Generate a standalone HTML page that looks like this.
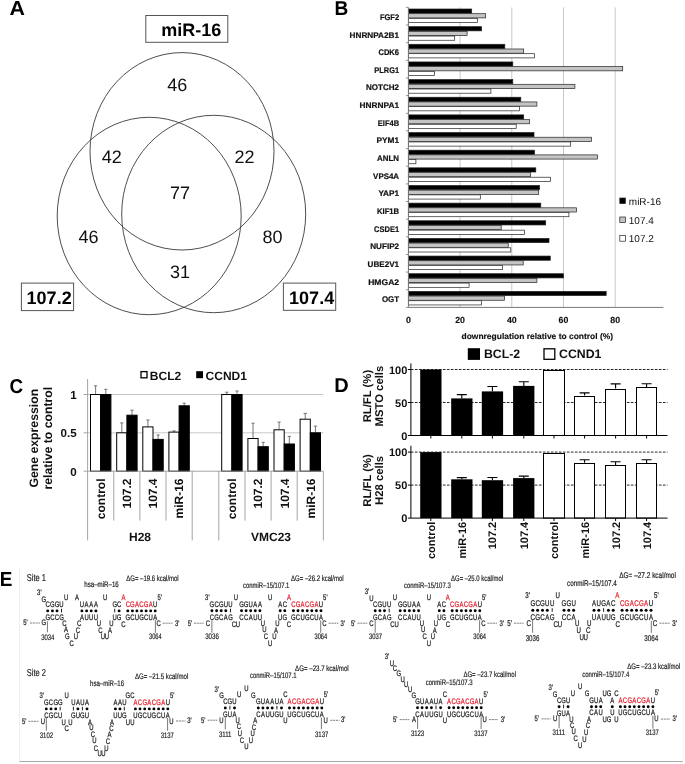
<!DOCTYPE html>
<html lang="en"><head><meta charset="utf-8"><title>Figure</title>
<style>
html,body{margin:0;padding:0;background:#fff;}
body{width:685px;height:764px;overflow:hidden;font-family:"Liberation Sans",Arial,sans-serif;}
svg{display:block;}
</style></head><body>
<svg width="685" height="764" viewBox="0 0 685 764" text-rendering="geometricPrecision">
<rect width="685" height="764" fill="#fff"/>
<g id="panelA" font-family="'Liberation Sans', Arial, sans-serif">
<text transform="translate(9.4 14.9) scale(1.06 1)" font-size="20.2" font-weight="bold" font-family="'Liberation Sans', Arial, sans-serif" fill="#000">A</text>
<ellipse cx="182" cy="151.3" rx="92" ry="98.7" fill="none" stroke="#3a3a3a" stroke-width="0.9"/>
<ellipse cx="149.2" cy="216.0" rx="92" ry="98.7" fill="none" stroke="#3a3a3a" stroke-width="0.9"/>
<ellipse cx="213.7" cy="214.0" rx="92" ry="98.7" fill="none" stroke="#3a3a3a" stroke-width="0.9"/>
<rect x="145.8" y="15.5" width="82" height="26.8" fill="#fff" stroke="#555" stroke-width="1"/>
<rect x="21.4" y="283.1" width="52.2" height="27.5" fill="#fff" stroke="#555" stroke-width="1"/>
<rect x="283.4" y="283.1" width="52.3" height="27.2" fill="#fff" stroke="#555" stroke-width="1"/>
<text x="161.2" y="35.9" font-size="18" font-weight="bold">miR-16</text>
<text x="26.6" y="304.4" font-size="18" font-weight="bold">107.2</text>
<text x="289.1" y="303.9" font-size="18" font-weight="bold">107.4</text>
<text x="177.3" y="91.2" font-size="18" text-anchor="middle" fill="#111">46</text>
<text x="111.8" y="162.6" font-size="18" text-anchor="middle" fill="#111">42</text>
<text x="244.4" y="162.6" font-size="18" text-anchor="middle" fill="#111">22</text>
<text x="180.0" y="198.8" font-size="18" text-anchor="middle" fill="#111">77</text>
<text x="88.6" y="243.3" font-size="18" text-anchor="middle" fill="#111">46</text>
<text x="272.5" y="243.3" font-size="18" text-anchor="middle" fill="#111">80</text>
<text x="180.0" y="277.8" font-size="18" text-anchor="middle" fill="#111">31</text>
</g>
<g id="panelB" font-family="'Liberation Sans', Arial, sans-serif">
<text transform="translate(334.4 14.9) scale(0.955 1)" font-size="20.0" font-weight="bold" font-family="'Liberation Sans', Arial, sans-serif" fill="#000">B</text>
<line x1="460.1" y1="7.4" x2="460.1" y2="307.4" stroke="#c8c8c8" stroke-width="1"/>
<line x1="511.8" y1="7.4" x2="511.8" y2="307.4" stroke="#c8c8c8" stroke-width="1"/>
<line x1="563.5" y1="7.4" x2="563.5" y2="307.4" stroke="#c8c8c8" stroke-width="1"/>
<line x1="615.2" y1="7.4" x2="615.2" y2="307.4" stroke="#c8c8c8" stroke-width="1"/>
<rect x="408.4" y="9.00" width="63.3" height="4.20" fill="#000" stroke="#222" stroke-width="0.7"/>
<rect x="408.4" y="13.70" width="77.3" height="4.20" fill="#c4c4c4" stroke="#222" stroke-width="0.7"/>
<rect x="408.4" y="18.40" width="69.0" height="4.20" fill="#fff" stroke="#222" stroke-width="0.7"/>
<text x="379.90" y="19.8" font-size="8.1" font-weight="bold" fill="#111" stroke="#111" stroke-width="0.2" textLength="19.20" lengthAdjust="spacingAndGlyphs">FGF2</text>
<rect x="408.4" y="26.65" width="73.2" height="4.20" fill="#000" stroke="#222" stroke-width="0.7"/>
<rect x="408.4" y="31.35" width="58.7" height="4.20" fill="#c4c4c4" stroke="#222" stroke-width="0.7"/>
<rect x="408.4" y="36.05" width="46.3" height="4.20" fill="#fff" stroke="#222" stroke-width="0.7"/>
<text x="349.55" y="37.5" font-size="8.1" font-weight="bold" fill="#111" stroke="#111" stroke-width="0.2" textLength="49.55" lengthAdjust="spacingAndGlyphs">HNRNPA2B1</text>
<rect x="408.4" y="44.29" width="96.4" height="4.20" fill="#000" stroke="#222" stroke-width="0.7"/>
<rect x="408.4" y="48.99" width="115.3" height="4.20" fill="#c4c4c4" stroke="#222" stroke-width="0.7"/>
<rect x="408.4" y="53.69" width="126.1" height="4.20" fill="#fff" stroke="#222" stroke-width="0.7"/>
<text x="378.40" y="55.1" font-size="8.1" font-weight="bold" fill="#111" stroke="#111" stroke-width="0.2" textLength="20.70" lengthAdjust="spacingAndGlyphs">CDK6</text>
<rect x="408.4" y="61.94" width="104.4" height="4.20" fill="#000" stroke="#222" stroke-width="0.7"/>
<rect x="408.4" y="66.64" width="214.3" height="4.20" fill="#c4c4c4" stroke="#222" stroke-width="0.7"/>
<rect x="408.4" y="71.34" width="26.1" height="4.20" fill="#fff" stroke="#222" stroke-width="0.7"/>
<text x="374.30" y="72.8" font-size="8.1" font-weight="bold" fill="#111" stroke="#111" stroke-width="0.2" textLength="24.80" lengthAdjust="spacingAndGlyphs">PLRG1</text>
<rect x="408.4" y="79.59" width="104.4" height="4.20" fill="#000" stroke="#222" stroke-width="0.7"/>
<rect x="408.4" y="84.29" width="166.5" height="4.20" fill="#c4c4c4" stroke="#222" stroke-width="0.7"/>
<rect x="408.4" y="88.99" width="82.5" height="4.20" fill="#fff" stroke="#222" stroke-width="0.7"/>
<text x="366.00" y="90.4" font-size="8.1" font-weight="bold" fill="#111" stroke="#111" stroke-width="0.2" textLength="33.10" lengthAdjust="spacingAndGlyphs">NOTCH2</text>
<rect x="408.4" y="97.24" width="112.4" height="4.20" fill="#000" stroke="#222" stroke-width="0.7"/>
<rect x="408.4" y="101.94" width="128.5" height="4.20" fill="#c4c4c4" stroke="#222" stroke-width="0.7"/>
<rect x="408.4" y="106.64" width="111.2" height="4.20" fill="#fff" stroke="#222" stroke-width="0.7"/>
<text x="359.50" y="108.1" font-size="8.1" font-weight="bold" fill="#111" stroke="#111" stroke-width="0.2" textLength="39.60" lengthAdjust="spacingAndGlyphs">HNRNPA1</text>
<rect x="408.4" y="114.88" width="115.3" height="4.20" fill="#000" stroke="#222" stroke-width="0.7"/>
<rect x="408.4" y="119.58" width="121.0" height="4.20" fill="#c4c4c4" stroke="#222" stroke-width="0.7"/>
<rect x="408.4" y="124.28" width="107.8" height="4.20" fill="#fff" stroke="#222" stroke-width="0.7"/>
<text x="377.80" y="125.7" font-size="8.1" font-weight="bold" fill="#111" stroke="#111" stroke-width="0.2" textLength="21.30" lengthAdjust="spacingAndGlyphs">EIF4B</text>
<rect x="408.4" y="132.53" width="125.6" height="4.20" fill="#000" stroke="#222" stroke-width="0.7"/>
<rect x="408.4" y="137.23" width="183.0" height="4.20" fill="#c4c4c4" stroke="#222" stroke-width="0.7"/>
<rect x="408.4" y="141.93" width="162.3" height="4.20" fill="#fff" stroke="#222" stroke-width="0.7"/>
<text x="376.50" y="143.4" font-size="8.1" font-weight="bold" fill="#111" stroke="#111" stroke-width="0.2" textLength="22.60" lengthAdjust="spacingAndGlyphs">PYM1</text>
<rect x="408.4" y="150.18" width="126.1" height="4.20" fill="#000" stroke="#222" stroke-width="0.7"/>
<rect x="408.4" y="154.88" width="189.0" height="4.20" fill="#c4c4c4" stroke="#222" stroke-width="0.7"/>
<rect x="408.4" y="159.58" width="7.5" height="4.20" fill="#fff" stroke="#222" stroke-width="0.7"/>
<text x="377.10" y="161.0" font-size="8.1" font-weight="bold" fill="#111" stroke="#111" stroke-width="0.2" textLength="22.00" lengthAdjust="spacingAndGlyphs">ANLN</text>
<rect x="408.4" y="167.82" width="127.4" height="4.20" fill="#000" stroke="#222" stroke-width="0.7"/>
<rect x="408.4" y="172.52" width="122.0" height="4.20" fill="#c4c4c4" stroke="#222" stroke-width="0.7"/>
<rect x="408.4" y="177.22" width="142.2" height="4.20" fill="#fff" stroke="#222" stroke-width="0.7"/>
<text x="373.10" y="178.6" font-size="8.1" font-weight="bold" fill="#111" stroke="#111" stroke-width="0.2" textLength="26.00" lengthAdjust="spacingAndGlyphs">VPS4A</text>
<rect x="408.4" y="185.47" width="131.1" height="4.20" fill="#000" stroke="#222" stroke-width="0.7"/>
<rect x="408.4" y="190.17" width="130.3" height="4.20" fill="#c4c4c4" stroke="#222" stroke-width="0.7"/>
<rect x="408.4" y="194.87" width="71.9" height="4.20" fill="#fff" stroke="#222" stroke-width="0.7"/>
<text x="378.40" y="196.3" font-size="8.1" font-weight="bold" fill="#111" stroke="#111" stroke-width="0.2" textLength="20.70" lengthAdjust="spacingAndGlyphs">YAP1</text>
<rect x="408.4" y="203.12" width="132.4" height="4.20" fill="#000" stroke="#222" stroke-width="0.7"/>
<rect x="408.4" y="207.82" width="168.0" height="4.20" fill="#c4c4c4" stroke="#222" stroke-width="0.7"/>
<rect x="408.4" y="212.52" width="160.5" height="4.20" fill="#fff" stroke="#222" stroke-width="0.7"/>
<text x="377.00" y="213.9" font-size="8.1" font-weight="bold" fill="#111" stroke="#111" stroke-width="0.2" textLength="22.10" lengthAdjust="spacingAndGlyphs">KIF1B</text>
<rect x="408.4" y="220.76" width="137.3" height="4.20" fill="#000" stroke="#222" stroke-width="0.7"/>
<rect x="408.4" y="225.46" width="92.8" height="4.20" fill="#c4c4c4" stroke="#222" stroke-width="0.7"/>
<rect x="408.4" y="230.16" width="116.1" height="4.20" fill="#fff" stroke="#222" stroke-width="0.7"/>
<text x="374.10" y="231.6" font-size="8.1" font-weight="bold" fill="#111" stroke="#111" stroke-width="0.2" textLength="25.00" lengthAdjust="spacingAndGlyphs">CSDE1</text>
<rect x="408.4" y="238.41" width="140.6" height="4.20" fill="#000" stroke="#222" stroke-width="0.7"/>
<rect x="408.4" y="243.11" width="99.8" height="4.20" fill="#c4c4c4" stroke="#222" stroke-width="0.7"/>
<rect x="408.4" y="247.81" width="102.4" height="4.20" fill="#fff" stroke="#222" stroke-width="0.7"/>
<text x="370.20" y="249.2" font-size="8.1" font-weight="bold" fill="#111" stroke="#111" stroke-width="0.2" textLength="28.90" lengthAdjust="spacingAndGlyphs">NUFIP2</text>
<rect x="408.4" y="256.06" width="141.9" height="4.20" fill="#000" stroke="#222" stroke-width="0.7"/>
<rect x="408.4" y="260.76" width="114.8" height="4.20" fill="#c4c4c4" stroke="#222" stroke-width="0.7"/>
<rect x="408.4" y="265.46" width="94.1" height="4.20" fill="#fff" stroke="#222" stroke-width="0.7"/>
<text x="367.60" y="266.9" font-size="8.1" font-weight="bold" fill="#111" stroke="#111" stroke-width="0.2" textLength="31.50" lengthAdjust="spacingAndGlyphs">UBE2V1</text>
<rect x="408.4" y="273.71" width="155.1" height="4.20" fill="#000" stroke="#222" stroke-width="0.7"/>
<rect x="408.4" y="278.41" width="128.5" height="4.20" fill="#c4c4c4" stroke="#222" stroke-width="0.7"/>
<rect x="408.4" y="283.11" width="60.7" height="4.20" fill="#fff" stroke="#222" stroke-width="0.7"/>
<text x="368.20" y="284.5" font-size="8.1" font-weight="bold" fill="#111" stroke="#111" stroke-width="0.2" textLength="30.90" lengthAdjust="spacingAndGlyphs">HMGA2</text>
<rect x="408.4" y="291.35" width="197.8" height="4.20" fill="#000" stroke="#222" stroke-width="0.7"/>
<rect x="408.4" y="296.05" width="96.2" height="4.20" fill="#c4c4c4" stroke="#222" stroke-width="0.7"/>
<rect x="408.4" y="300.75" width="73.2" height="4.20" fill="#fff" stroke="#222" stroke-width="0.7"/>
<text x="381.90" y="302.2" font-size="8.1" font-weight="bold" fill="#111" stroke="#111" stroke-width="0.2" textLength="17.20" lengthAdjust="spacingAndGlyphs">OGT</text>
<line x1="408.4" y1="7.4" x2="408.4" y2="307.4" stroke="#777" stroke-width="1"/>
<line x1="408.4" y1="307.4" x2="663.4" y2="307.4" stroke="#777" stroke-width="1"/>
<line x1="405.9" y1="7.4" x2="408.4" y2="7.4" stroke="#777" stroke-width="0.8"/>
<line x1="405.9" y1="25.0" x2="408.4" y2="25.0" stroke="#777" stroke-width="0.8"/>
<line x1="405.9" y1="42.7" x2="408.4" y2="42.7" stroke="#777" stroke-width="0.8"/>
<line x1="405.9" y1="60.3" x2="408.4" y2="60.3" stroke="#777" stroke-width="0.8"/>
<line x1="405.9" y1="78.0" x2="408.4" y2="78.0" stroke="#777" stroke-width="0.8"/>
<line x1="405.9" y1="95.6" x2="408.4" y2="95.6" stroke="#777" stroke-width="0.8"/>
<line x1="405.9" y1="113.3" x2="408.4" y2="113.3" stroke="#777" stroke-width="0.8"/>
<line x1="405.9" y1="130.9" x2="408.4" y2="130.9" stroke="#777" stroke-width="0.8"/>
<line x1="405.9" y1="148.6" x2="408.4" y2="148.6" stroke="#777" stroke-width="0.8"/>
<line x1="405.9" y1="166.2" x2="408.4" y2="166.2" stroke="#777" stroke-width="0.8"/>
<line x1="405.9" y1="183.9" x2="408.4" y2="183.9" stroke="#777" stroke-width="0.8"/>
<line x1="405.9" y1="201.5" x2="408.4" y2="201.5" stroke="#777" stroke-width="0.8"/>
<line x1="405.9" y1="219.2" x2="408.4" y2="219.2" stroke="#777" stroke-width="0.8"/>
<line x1="405.9" y1="236.8" x2="408.4" y2="236.8" stroke="#777" stroke-width="0.8"/>
<line x1="405.9" y1="254.5" x2="408.4" y2="254.5" stroke="#777" stroke-width="0.8"/>
<line x1="405.9" y1="272.1" x2="408.4" y2="272.1" stroke="#777" stroke-width="0.8"/>
<line x1="405.9" y1="289.8" x2="408.4" y2="289.8" stroke="#777" stroke-width="0.8"/>
<line x1="405.9" y1="307.4" x2="408.4" y2="307.4" stroke="#777" stroke-width="0.8"/>
<text x="408.4" y="323.4" font-size="8.8" font-weight="bold" text-anchor="middle" fill="#111" stroke="#111" stroke-width="0.15">0</text>
<text x="460.1" y="323.4" font-size="8.8" font-weight="bold" text-anchor="middle" fill="#111" stroke="#111" stroke-width="0.15">20</text>
<text x="511.8" y="323.4" font-size="8.8" font-weight="bold" text-anchor="middle" fill="#111" stroke="#111" stroke-width="0.15">40</text>
<text x="563.5" y="323.4" font-size="8.8" font-weight="bold" text-anchor="middle" fill="#111" stroke="#111" stroke-width="0.15">60</text>
<text x="615.2" y="323.4" font-size="8.8" font-weight="bold" text-anchor="middle" fill="#111" stroke="#111" stroke-width="0.15">80</text>
<text x="537.3" y="338.6" font-size="8.2" font-weight="bold" text-anchor="middle" fill="#111" stroke="#111" stroke-width="0.15" textLength="151.5" lengthAdjust="spacingAndGlyphs">downregulation relative to control (%)</text>
<rect x="619.8" y="198" width="5.6" height="5.6" fill="#000" stroke="#222" stroke-width="0.7"/>
<text x="628.8" y="204.6" font-size="10" fill="#111">miR-16</text>
<rect x="619.8" y="217" width="5.6" height="5.6" fill="#c4c4c4" stroke="#222" stroke-width="0.7"/>
<text x="628.8" y="223.6" font-size="10" fill="#111">107.4</text>
<rect x="619.8" y="235.6" width="5.6" height="5.6" fill="#fff" stroke="#222" stroke-width="0.7"/>
<text x="628.8" y="242.2" font-size="10" fill="#111">107.2</text>
</g>
<g id="panelC" font-family="'Liberation Sans', Arial, sans-serif" font-weight="bold">
<text transform="translate(9.6 392.9) scale(0.94 1)" font-size="20.0" font-weight="bold" font-family="'Liberation Sans', Arial, sans-serif" fill="#000">C</text>
<line x1="87.6" y1="432.8" x2="323.4" y2="432.8" stroke="#c8c8c8" stroke-width="1"/>
<line x1="87.6" y1="394.5" x2="323.4" y2="394.5" stroke="#c8c8c8" stroke-width="1"/>
<path d="M95.6 394.5V385.8M94.0 385.8H97.2" stroke="#666" stroke-width="0.9" fill="none"/>
<rect x="90.5" y="394.5" width="10.2" height="76.7" fill="#fff" stroke="#000" stroke-width="1"/>
<path d="M105.8 394.5V389.3M104.2 389.3H107.4" stroke="#666" stroke-width="0.9" fill="none"/>
<rect x="100.7" y="394.5" width="10.2" height="76.7" fill="#000" stroke="#000" stroke-width="1"/>
<text transform="translate(105.0 478.5) rotate(-90)" font-size="12" text-anchor="end" fill="#111">control</text>
<path d="M121.8 432.8V422.9M120.2 422.9H123.3" stroke="#666" stroke-width="0.9" fill="none"/>
<rect x="116.7" y="432.8" width="10.2" height="38.4" fill="#fff" stroke="#000" stroke-width="1"/>
<path d="M132.0 415.2V410.2M130.4 410.2H133.6" stroke="#666" stroke-width="0.9" fill="none"/>
<rect x="126.9" y="415.2" width="10.2" height="56.0" fill="#000" stroke="#000" stroke-width="1"/>
<text transform="translate(131.1 478.5) rotate(-90)" font-size="12" text-anchor="end" fill="#111">107.2</text>
<path d="M147.9 426.9V420.0M146.3 420.0H149.5" stroke="#666" stroke-width="0.9" fill="none"/>
<rect x="142.8" y="426.9" width="10.2" height="44.3" fill="#fff" stroke="#000" stroke-width="1"/>
<path d="M158.1 439.4V435.0M156.5 435.0H159.7" stroke="#666" stroke-width="0.9" fill="none"/>
<rect x="153.0" y="439.4" width="10.2" height="31.8" fill="#000" stroke="#000" stroke-width="1"/>
<text transform="translate(157.3 478.5) rotate(-90)" font-size="12" text-anchor="end" fill="#111">107.4</text>
<path d="M174.0 432.1V430.9M172.4 430.9H175.6" stroke="#666" stroke-width="0.9" fill="none"/>
<rect x="168.9" y="432.1" width="10.2" height="39.1" fill="#fff" stroke="#000" stroke-width="1"/>
<path d="M184.2 405.8V403.2M182.6 403.2H185.8" stroke="#666" stroke-width="0.9" fill="none"/>
<rect x="179.1" y="405.8" width="10.2" height="65.4" fill="#000" stroke="#000" stroke-width="1"/>
<text transform="translate(183.4 478.5) rotate(-90)" font-size="12" text-anchor="end" fill="#111">miR-16</text>
<line x1="87.6" y1="471.2" x2="87.6" y2="540.4" stroke="#9a9a9a" stroke-width="0.9"/>
<line x1="113.8" y1="471.2" x2="113.8" y2="520.6" stroke="#9a9a9a" stroke-width="0.9"/>
<line x1="139.9" y1="471.2" x2="139.9" y2="520.6" stroke="#9a9a9a" stroke-width="0.9"/>
<line x1="166.0" y1="471.2" x2="166.0" y2="520.6" stroke="#9a9a9a" stroke-width="0.9"/>
<line x1="192.2" y1="471.2" x2="192.2" y2="540.4" stroke="#9a9a9a" stroke-width="0.9"/>
<path d="M226.8 394.5V392.2M225.2 392.2H228.4" stroke="#666" stroke-width="0.9" fill="none"/>
<rect x="221.7" y="394.5" width="10.2" height="76.7" fill="#fff" stroke="#000" stroke-width="1"/>
<path d="M237.0 394.5V391.0M235.4 391.0H238.6" stroke="#666" stroke-width="0.9" fill="none"/>
<rect x="231.9" y="394.5" width="10.2" height="76.7" fill="#000" stroke="#000" stroke-width="1"/>
<text transform="translate(236.2 478.5) rotate(-90)" font-size="12" text-anchor="end" fill="#111">control</text>
<path d="M253.0 438.5V423.2M251.4 423.2H254.6" stroke="#666" stroke-width="0.9" fill="none"/>
<rect x="247.9" y="438.5" width="10.2" height="32.7" fill="#fff" stroke="#000" stroke-width="1"/>
<path d="M263.2 446.7V442.3M261.6 442.3H264.8" stroke="#666" stroke-width="0.9" fill="none"/>
<rect x="258.1" y="446.7" width="10.2" height="24.5" fill="#000" stroke="#000" stroke-width="1"/>
<text transform="translate(262.3 478.5) rotate(-90)" font-size="12" text-anchor="end" fill="#111">107.2</text>
<path d="M279.1 429.8V422.1M277.5 422.1H280.7" stroke="#666" stroke-width="0.9" fill="none"/>
<rect x="274.0" y="429.8" width="10.2" height="41.4" fill="#fff" stroke="#000" stroke-width="1"/>
<path d="M289.3 444.0V436.4M287.7 436.4H290.9" stroke="#666" stroke-width="0.9" fill="none"/>
<rect x="284.2" y="444.0" width="10.2" height="27.2" fill="#000" stroke="#000" stroke-width="1"/>
<text transform="translate(288.5 478.5) rotate(-90)" font-size="12" text-anchor="end" fill="#111">107.4</text>
<path d="M305.2 419.2V413.4M303.6 413.4H306.9" stroke="#666" stroke-width="0.9" fill="none"/>
<rect x="300.1" y="419.2" width="10.2" height="52.0" fill="#fff" stroke="#000" stroke-width="1"/>
<path d="M315.4 432.8V426.1M313.8 426.1H317.1" stroke="#666" stroke-width="0.9" fill="none"/>
<rect x="310.3" y="432.8" width="10.2" height="38.4" fill="#000" stroke="#000" stroke-width="1"/>
<text transform="translate(314.6 478.5) rotate(-90)" font-size="12" text-anchor="end" fill="#111">miR-16</text>
<line x1="218.8" y1="471.2" x2="218.8" y2="540.4" stroke="#9a9a9a" stroke-width="0.9"/>
<line x1="245.0" y1="471.2" x2="245.0" y2="520.6" stroke="#9a9a9a" stroke-width="0.9"/>
<line x1="271.1" y1="471.2" x2="271.1" y2="520.6" stroke="#9a9a9a" stroke-width="0.9"/>
<line x1="297.2" y1="471.2" x2="297.2" y2="520.6" stroke="#9a9a9a" stroke-width="0.9"/>
<line x1="323.4" y1="471.2" x2="323.4" y2="540.4" stroke="#9a9a9a" stroke-width="0.9"/>
<line x1="87.6" y1="379" x2="87.6" y2="471.2" stroke="#9a9a9a" stroke-width="0.9"/>
<line x1="87.6" y1="471.2" x2="323.4" y2="471.2" stroke="#9a9a9a" stroke-width="0.9"/>
<text x="76.6" y="399.1" font-size="11.6" text-anchor="end" fill="#111">1</text>
<line x1="83.6" y1="394.5" x2="87.6" y2="394.5" stroke="#9a9a9a" stroke-width="0.9"/>
<text x="76.6" y="437.4" font-size="11.6" text-anchor="end" fill="#111">0.5</text>
<line x1="83.6" y1="432.8" x2="87.6" y2="432.8" stroke="#9a9a9a" stroke-width="0.9"/>
<text x="76.6" y="475.8" font-size="11.6" text-anchor="end" fill="#111">0</text>
<line x1="83.6" y1="471.2" x2="87.6" y2="471.2" stroke="#9a9a9a" stroke-width="0.9"/>
<text x="140" y="540.9" font-size="12" text-anchor="middle" fill="#111">H28</text>
<text x="271" y="540.9" font-size="12" text-anchor="middle" fill="#111">VMC23</text>
<text transform="translate(37.6 438.2) rotate(-90)" font-size="12.25" text-anchor="middle" fill="#111">Gene expression</text>
<text transform="translate(52.4 438.2) rotate(-90)" font-size="12.25" text-anchor="middle" fill="#111">relative to control</text>
<rect x="141.0" y="371.6" width="6.0" height="6.2" fill="#fff" stroke="#000" stroke-width="1.3"/>
<text x="149.8" y="379.6" font-size="12" fill="#111">BCL2</text>
<rect x="196.2" y="371.2" width="6.8" height="7" fill="#000"/>
<text x="205.6" y="379.6" font-size="12" fill="#111">CCND1</text>
</g>
<g id="panelD" font-family="'Liberation Sans', Arial, sans-serif" font-weight="bold">
<text transform="translate(334.3 392.0) scale(1.0 1)" font-size="20.0" font-weight="bold" font-family="'Liberation Sans', Arial, sans-serif" fill="#000">D</text>
<rect x="467.8" y="348.2" width="12.2" height="11.7" fill="#000"/>
<text x="483.9" y="358.4" font-size="12.3" fill="#111">BCL-2</text>
<rect x="544.0" y="348.8" width="10.8" height="10.5" fill="#fff" stroke="#000" stroke-width="1.3"/>
<text x="559.0" y="358.4" font-size="12.3" fill="#111">CCND1</text>
<line x1="410.9" y1="402.5" x2="667.5" y2="402.5" stroke="#000" stroke-width="0.85" stroke-dasharray="2.6 1.4"/>
<line x1="410.9" y1="369.5" x2="667.5" y2="369.5" stroke="#000" stroke-width="0.85" stroke-dasharray="2.6 1.4"/>
<rect x="420.2" y="369.5" width="21.3" height="66.0" fill="#000"/>
<line x1="430.8" y1="435.5" x2="430.8" y2="438.5" stroke="#000" stroke-width="1"/>
<path d="M461.8 398.4V394.6M456.8 394.6H466.8" stroke="#000" stroke-width="1.1" fill="none"/>
<rect x="451.2" y="398.4" width="21.3" height="37.1" fill="#000"/>
<line x1="461.8" y1="435.5" x2="461.8" y2="438.5" stroke="#000" stroke-width="1"/>
<path d="M492.4 391.4V386.5M487.4 386.5H497.4" stroke="#000" stroke-width="1.1" fill="none"/>
<rect x="481.8" y="391.4" width="21.3" height="44.1" fill="#000"/>
<line x1="492.4" y1="435.5" x2="492.4" y2="438.5" stroke="#000" stroke-width="1"/>
<path d="M523.8 385.9V381.8M518.8 381.8H528.8" stroke="#000" stroke-width="1.1" fill="none"/>
<rect x="513.1" y="385.9" width="21.3" height="49.6" fill="#000"/>
<line x1="523.8" y1="435.5" x2="523.8" y2="438.5" stroke="#000" stroke-width="1"/>
<rect x="543.5" y="370.5" width="21" height="65.0" fill="#fff" stroke="#000" stroke-width="1"/>
<line x1="554.0" y1="435.5" x2="554.0" y2="438.5" stroke="#000" stroke-width="1"/>
<path d="M584.6 395.5V392.9M579.6 392.9H589.6" stroke="#000" stroke-width="1.1" fill="none"/>
<rect x="574.5" y="396.5" width="20" height="39.0" fill="#fff" stroke="#000" stroke-width="1"/>
<line x1="584.6" y1="435.5" x2="584.6" y2="438.5" stroke="#000" stroke-width="1"/>
<path d="M615.6 388.5V383.9M610.6 383.9H620.6" stroke="#000" stroke-width="1.1" fill="none"/>
<rect x="605.5" y="389.5" width="20" height="46.0" fill="#fff" stroke="#000" stroke-width="1"/>
<line x1="615.6" y1="435.5" x2="615.6" y2="438.5" stroke="#000" stroke-width="1"/>
<path d="M646.6 387.3V383.8M641.6 383.8H651.6" stroke="#000" stroke-width="1.1" fill="none"/>
<rect x="636.5" y="387.5" width="20" height="48.0" fill="#fff" stroke="#000" stroke-width="1"/>
<line x1="646.6" y1="435.5" x2="646.6" y2="438.5" stroke="#000" stroke-width="1"/>
<path d="M410.9 363.4V435.5H667.5" stroke="#000" stroke-width="1.0" fill="none"/>
<line x1="407.9" y1="369.5" x2="410.9" y2="369.5" stroke="#000" stroke-width="1"/>
<text x="407.3" y="373.5" font-size="11" text-anchor="end" fill="#111">100</text>
<line x1="407.9" y1="402.5" x2="410.9" y2="402.5" stroke="#000" stroke-width="1"/>
<text x="407.3" y="406.5" font-size="11" text-anchor="end" fill="#111">50</text>
<line x1="407.9" y1="435.5" x2="410.9" y2="435.5" stroke="#000" stroke-width="1"/>
<text x="407.3" y="439.5" font-size="11" text-anchor="end" fill="#111">0</text>
<text transform="translate(370.5 396.1) rotate(-90)" font-size="11.3" text-anchor="middle" fill="#111">RL/FL (%)</text>
<text transform="translate(383.2 396.1) rotate(-90)" font-size="11.3" text-anchor="middle" fill="#111">MSTO cells</text>
<line x1="410.9" y1="485.1" x2="667.5" y2="485.1" stroke="#000" stroke-width="0.85" stroke-dasharray="2.6 1.4"/>
<line x1="410.9" y1="452.1" x2="667.5" y2="452.1" stroke="#000" stroke-width="0.85" stroke-dasharray="2.6 1.4"/>
<rect x="420.2" y="452.1" width="21.3" height="66.0" fill="#000"/>
<line x1="430.8" y1="518.1" x2="430.8" y2="521.1" stroke="#000" stroke-width="1"/>
<path d="M461.8 479.3V477.6M456.8 477.6H466.8" stroke="#000" stroke-width="1.1" fill="none"/>
<rect x="451.2" y="479.3" width="21.3" height="38.8" fill="#000"/>
<line x1="461.8" y1="518.1" x2="461.8" y2="521.1" stroke="#000" stroke-width="1"/>
<path d="M492.4 480.2V477.5M487.4 477.5H497.4" stroke="#000" stroke-width="1.1" fill="none"/>
<rect x="481.8" y="480.2" width="21.3" height="38.0" fill="#000"/>
<line x1="492.4" y1="518.1" x2="492.4" y2="521.1" stroke="#000" stroke-width="1"/>
<path d="M523.8 478.1V476.1M518.8 476.1H528.8" stroke="#000" stroke-width="1.1" fill="none"/>
<rect x="513.1" y="478.1" width="21.3" height="40.0" fill="#000"/>
<line x1="523.8" y1="518.1" x2="523.8" y2="521.1" stroke="#000" stroke-width="1"/>
<rect x="543.5" y="453.5" width="21" height="64.6" fill="#fff" stroke="#000" stroke-width="1"/>
<line x1="554.0" y1="518.1" x2="554.0" y2="521.1" stroke="#000" stroke-width="1"/>
<path d="M584.6 462.7V459.8M579.6 459.8H589.6" stroke="#000" stroke-width="1.1" fill="none"/>
<rect x="574.5" y="463.5" width="20" height="54.6" fill="#fff" stroke="#000" stroke-width="1"/>
<line x1="584.6" y1="518.1" x2="584.6" y2="521.1" stroke="#000" stroke-width="1"/>
<path d="M615.6 465.3V461.8M610.6 461.8H620.6" stroke="#000" stroke-width="1.1" fill="none"/>
<rect x="605.5" y="465.5" width="20" height="52.6" fill="#fff" stroke="#000" stroke-width="1"/>
<line x1="615.6" y1="518.1" x2="615.6" y2="521.1" stroke="#000" stroke-width="1"/>
<path d="M646.6 463.3V459.8M641.6 459.8H651.6" stroke="#000" stroke-width="1.1" fill="none"/>
<rect x="636.5" y="463.5" width="20" height="54.6" fill="#fff" stroke="#000" stroke-width="1"/>
<line x1="646.6" y1="518.1" x2="646.6" y2="521.1" stroke="#000" stroke-width="1"/>
<path d="M410.9 445.7V518.1H667.5" stroke="#000" stroke-width="1.0" fill="none"/>
<line x1="407.9" y1="452.1" x2="410.9" y2="452.1" stroke="#000" stroke-width="1"/>
<text x="407.3" y="456.1" font-size="11" text-anchor="end" fill="#111">100</text>
<line x1="407.9" y1="485.1" x2="410.9" y2="485.1" stroke="#000" stroke-width="1"/>
<text x="407.3" y="489.1" font-size="11" text-anchor="end" fill="#111">50</text>
<line x1="407.9" y1="518.1" x2="410.9" y2="518.1" stroke="#000" stroke-width="1"/>
<text x="407.3" y="522.1" font-size="11" text-anchor="end" fill="#111">0</text>
<text transform="translate(370.5 480.4) rotate(-90)" font-size="11.3" text-anchor="middle" fill="#111">RL/FL (%)</text>
<text transform="translate(383.2 480.4) rotate(-90)" font-size="11.3" text-anchor="middle" fill="#111">H28 cells</text>
<text transform="translate(434.7 521.8) rotate(-90)" font-size="11" text-anchor="end" fill="#111">control</text>
<text transform="translate(465.7 521.8) rotate(-90)" font-size="11" text-anchor="end" fill="#111">miR-16</text>
<text transform="translate(496.3 521.8) rotate(-90)" font-size="11" text-anchor="end" fill="#111">107.2</text>
<text transform="translate(527.6 521.8) rotate(-90)" font-size="11" text-anchor="end" fill="#111">107.4</text>
<text transform="translate(557.9 521.8) rotate(-90)" font-size="11" text-anchor="end" fill="#111">control</text>
<text transform="translate(588.5 521.8) rotate(-90)" font-size="11" text-anchor="end" fill="#111">miR-16</text>
<text transform="translate(619.5 521.8) rotate(-90)" font-size="11" text-anchor="end" fill="#111">107.2</text>
<text transform="translate(650.5 521.8) rotate(-90)" font-size="11" text-anchor="end" fill="#111">107.4</text>
</g>
<g id="panelE" font-family="'Liberation Sans', Arial, sans-serif">
<text transform="translate(-0.2 585.6) scale(0.93 1)" font-size="20.4" font-weight="bold" font-family="'Liberation Sans', Arial, sans-serif" fill="#000">E</text>
<line x1="19.5" y1="567" x2="19.5" y2="761.5" stroke="#efefef" stroke-width="1"/>
<line x1="19.5" y1="761.5" x2="683" y2="761.5" stroke="#a8a8a8" stroke-width="1.2"/>
<line x1="683" y1="567" x2="683" y2="761.5" stroke="#f4f4f4" stroke-width="1"/>
<text x="26.8" y="580.9" font-size="10" fill="#1c1c1c" stroke="#1c1c1c" stroke-width="0.2" textLength="19.0" lengthAdjust="spacingAndGlyphs">Site 1</text>
<text x="26.8" y="675.8" font-size="10" fill="#1c1c1c" stroke="#1c1c1c" stroke-width="0.2" textLength="19.0" lengthAdjust="spacingAndGlyphs">Site 2</text>
<text transform="translate(39.3 595.2) scale(0.74 1)" font-size="8.0" text-anchor="middle" fill="#1c1c1c" stroke="#1c1c1c" stroke-width="0.25">3'</text>
<text transform="translate(43.9 601.5) scale(0.74 1)" font-size="8.0" text-anchor="middle" fill="#1c1c1c" stroke="#1c1c1c" stroke-width="0.25">G</text>
<text transform="translate(66.1 600.4) scale(0.74 1)" font-size="8.0" text-anchor="middle" fill="#1c1c1c" stroke="#1c1c1c" stroke-width="0.25">U</text>
<text transform="translate(76.9 600.4) scale(0.74 1)" font-size="8.0" text-anchor="middle" fill="#1c1c1c" stroke="#1c1c1c" stroke-width="0.25">A</text>
<text transform="translate(105.2 599.6) scale(0.74 1)" font-size="8.0" text-anchor="middle" fill="#1c1c1c" stroke="#1c1c1c" stroke-width="0.25">U</text>
<text transform="translate(159.6 599.9) scale(0.74 1)" font-size="8.0" text-anchor="middle" fill="#1c1c1c" stroke="#1c1c1c" stroke-width="0.25">5'</text>
<text transform="translate(25.5 625.3) scale(0.74 1)" font-size="8.0" text-anchor="middle" fill="#1c1c1c" stroke="#1c1c1c" stroke-width="0.25">5'</text>
<text transform="translate(43.7 625.3) scale(0.74 1)" font-size="8.0" text-anchor="middle" fill="#1c1c1c" stroke="#1c1c1c" stroke-width="0.25">G</text>
<text transform="translate(64.4 626.2) scale(0.74 1)" font-size="8.0" text-anchor="middle" fill="#1c1c1c" stroke="#1c1c1c" stroke-width="0.25">C</text>
<text transform="translate(65.9 632.3) scale(0.74 1)" font-size="8.0" text-anchor="middle" fill="#1c1c1c" stroke="#1c1c1c" stroke-width="0.25">A</text>
<text transform="translate(67.3 639.3) scale(0.74 1)" font-size="8.0" text-anchor="middle" fill="#1c1c1c" stroke="#1c1c1c" stroke-width="0.25">G</text>
<text transform="translate(71.7 645.7) scale(0.74 1)" font-size="8.0" text-anchor="middle" fill="#1c1c1c" stroke="#1c1c1c" stroke-width="0.25">C</text>
<text transform="translate(75.8 638.7) scale(0.74 1)" font-size="8.0" text-anchor="middle" fill="#1c1c1c" stroke="#1c1c1c" stroke-width="0.25">U</text>
<text transform="translate(77.8 632.6) scale(0.74 1)" font-size="8.0" text-anchor="middle" fill="#1c1c1c" stroke="#1c1c1c" stroke-width="0.25">C</text>
<text transform="translate(79.2 626.2) scale(0.74 1)" font-size="8.0" text-anchor="middle" fill="#1c1c1c" stroke="#1c1c1c" stroke-width="0.25">C</text>
<text transform="translate(98.9 626.2) scale(0.74 1)" font-size="8.0" text-anchor="middle" fill="#1c1c1c" stroke="#1c1c1c" stroke-width="0.25">U</text>
<text transform="translate(100.5 633.1) scale(0.74 1)" font-size="8.0" text-anchor="middle" fill="#1c1c1c" stroke="#1c1c1c" stroke-width="0.25">C</text>
<text transform="translate(110.1 632.5) scale(0.74 1)" font-size="8.0" text-anchor="middle" fill="#1c1c1c" stroke="#1c1c1c" stroke-width="0.25">A</text>
<text transform="translate(111.4 626.2) scale(0.74 1)" font-size="8.0" text-anchor="middle" fill="#1c1c1c" stroke="#1c1c1c" stroke-width="0.25">U</text>
<text transform="translate(123.5 626.6) scale(0.74 1)" font-size="8.0" text-anchor="middle" fill="#1c1c1c" stroke="#1c1c1c" stroke-width="0.25">C</text>
<text transform="translate(158.7 625.5) scale(0.74 1)" font-size="8.0" text-anchor="middle" fill="#1c1c1c" stroke="#1c1c1c" stroke-width="0.25">C</text>
<text transform="translate(177.1 625.5) scale(0.74 1)" font-size="8.0" text-anchor="middle" fill="#1c1c1c" stroke="#1c1c1c" stroke-width="0.25">3'</text>
<text transform="translate(102.9 639.1) scale(0.74 1)" font-size="8.0" text-anchor="middle" fill="#1c1c1c" stroke="#1c1c1c" stroke-width="0.25">U</text>
<text transform="translate(107.0 639.1) scale(0.74 1)" font-size="8.0" text-anchor="middle" fill="#1c1c1c" stroke="#1c1c1c" stroke-width="0.25">U</text>
<text transform="translate(123.5 600.3) scale(0.74 1)" font-size="8.0" text-anchor="middle" fill="#e8202c" stroke="#e8202c" stroke-width="0.25">A</text>
<text transform="translate(47.7 607.0) scale(0.74 1)" font-size="8.0" text-anchor="middle" fill="#1c1c1c" stroke="#1c1c1c" stroke-width="0.25">C</text>
<text transform="translate(52.4 607.0) scale(0.74 1)" font-size="8.0" text-anchor="middle" fill="#1c1c1c" stroke="#1c1c1c" stroke-width="0.25">G</text>
<text transform="translate(57.0 607.0) scale(0.74 1)" font-size="8.0" text-anchor="middle" fill="#1c1c1c" stroke="#1c1c1c" stroke-width="0.25">G</text>
<text transform="translate(61.5 607.0) scale(0.74 1)" font-size="8.0" text-anchor="middle" fill="#1c1c1c" stroke="#1c1c1c" stroke-width="0.25">U</text>
<text transform="translate(81.9 607.0) scale(0.74 1)" font-size="8.0" text-anchor="middle" fill="#1c1c1c" stroke="#1c1c1c" stroke-width="0.25">U</text>
<text transform="translate(86.6 607.0) scale(0.74 1)" font-size="8.0" text-anchor="middle" fill="#1c1c1c" stroke="#1c1c1c" stroke-width="0.25">A</text>
<text transform="translate(91.2 607.0) scale(0.74 1)" font-size="8.0" text-anchor="middle" fill="#1c1c1c" stroke="#1c1c1c" stroke-width="0.25">A</text>
<text transform="translate(95.9 607.0) scale(0.74 1)" font-size="8.0" text-anchor="middle" fill="#1c1c1c" stroke="#1c1c1c" stroke-width="0.25">A</text>
<text transform="translate(114.7 607.2) scale(0.74 1)" font-size="8.0" text-anchor="middle" fill="#1c1c1c" stroke="#1c1c1c" stroke-width="0.25">G</text>
<text transform="translate(119.1 607.2) scale(0.74 1)" font-size="8.0" text-anchor="middle" fill="#1c1c1c" stroke="#1c1c1c" stroke-width="0.25">C</text>
<text transform="translate(127.8 607.2) scale(0.74 1)" font-size="8.0" text-anchor="middle" fill="#e8202c" stroke="#e8202c" stroke-width="0.25">C</text>
<text transform="translate(132.4 607.2) scale(0.74 1)" font-size="8.0" text-anchor="middle" fill="#e8202c" stroke="#e8202c" stroke-width="0.25">G</text>
<text transform="translate(136.9 607.2) scale(0.74 1)" font-size="8.0" text-anchor="middle" fill="#e8202c" stroke="#e8202c" stroke-width="0.25">A</text>
<text transform="translate(141.5 607.2) scale(0.74 1)" font-size="8.0" text-anchor="middle" fill="#e8202c" stroke="#e8202c" stroke-width="0.25">C</text>
<text transform="translate(146.1 607.2) scale(0.74 1)" font-size="8.0" text-anchor="middle" fill="#e8202c" stroke="#e8202c" stroke-width="0.25">G</text>
<text transform="translate(150.7 607.2) scale(0.74 1)" font-size="8.0" text-anchor="middle" fill="#e8202c" stroke="#e8202c" stroke-width="0.25">A</text>
<text transform="translate(155.2 607.2) scale(0.74 1)" font-size="8.0" text-anchor="middle" fill="#1c1c1c" stroke="#1c1c1c" stroke-width="0.25">U</text>
<text transform="translate(47.7 619.9) scale(0.74 1)" font-size="8.0" text-anchor="middle" fill="#1c1c1c" stroke="#1c1c1c" stroke-width="0.25">G</text>
<text transform="translate(52.4 619.9) scale(0.74 1)" font-size="8.0" text-anchor="middle" fill="#1c1c1c" stroke="#1c1c1c" stroke-width="0.25">C</text>
<text transform="translate(57.0 619.9) scale(0.74 1)" font-size="8.0" text-anchor="middle" fill="#1c1c1c" stroke="#1c1c1c" stroke-width="0.25">C</text>
<text transform="translate(61.5 619.9) scale(0.74 1)" font-size="8.0" text-anchor="middle" fill="#1c1c1c" stroke="#1c1c1c" stroke-width="0.25">G</text>
<text transform="translate(81.9 619.9) scale(0.74 1)" font-size="8.0" text-anchor="middle" fill="#1c1c1c" stroke="#1c1c1c" stroke-width="0.25">A</text>
<text transform="translate(86.6 619.9) scale(0.74 1)" font-size="8.0" text-anchor="middle" fill="#1c1c1c" stroke="#1c1c1c" stroke-width="0.25">U</text>
<text transform="translate(91.2 619.9) scale(0.74 1)" font-size="8.0" text-anchor="middle" fill="#1c1c1c" stroke="#1c1c1c" stroke-width="0.25">U</text>
<text transform="translate(95.9 619.9) scale(0.74 1)" font-size="8.0" text-anchor="middle" fill="#1c1c1c" stroke="#1c1c1c" stroke-width="0.25">U</text>
<text transform="translate(114.7 620.0) scale(0.74 1)" font-size="8.0" text-anchor="middle" fill="#1c1c1c" stroke="#1c1c1c" stroke-width="0.25">U</text>
<text transform="translate(119.1 620.0) scale(0.74 1)" font-size="8.0" text-anchor="middle" fill="#1c1c1c" stroke="#1c1c1c" stroke-width="0.25">G</text>
<text transform="translate(127.8 620.0) scale(0.74 1)" font-size="8.0" text-anchor="middle" fill="#1c1c1c" stroke="#1c1c1c" stroke-width="0.25">G</text>
<text transform="translate(132.4 620.0) scale(0.74 1)" font-size="8.0" text-anchor="middle" fill="#1c1c1c" stroke="#1c1c1c" stroke-width="0.25">C</text>
<text transform="translate(136.9 620.0) scale(0.74 1)" font-size="8.0" text-anchor="middle" fill="#1c1c1c" stroke="#1c1c1c" stroke-width="0.25">U</text>
<text transform="translate(141.5 620.0) scale(0.74 1)" font-size="8.0" text-anchor="middle" fill="#1c1c1c" stroke="#1c1c1c" stroke-width="0.25">G</text>
<text transform="translate(146.1 620.0) scale(0.74 1)" font-size="8.0" text-anchor="middle" fill="#1c1c1c" stroke="#1c1c1c" stroke-width="0.25">C</text>
<text transform="translate(150.7 620.0) scale(0.74 1)" font-size="8.0" text-anchor="middle" fill="#1c1c1c" stroke="#1c1c1c" stroke-width="0.25">U</text>
<text transform="translate(155.2 620.0) scale(0.74 1)" font-size="8.0" text-anchor="middle" fill="#1c1c1c" stroke="#1c1c1c" stroke-width="0.25">A</text>
<circle cx="47.7" cy="610.9" r="1.45" fill="#000"/>
<circle cx="52.4" cy="610.9" r="1.45" fill="#000"/>
<circle cx="57.0" cy="610.9" r="1.45" fill="#000"/>
<circle cx="81.9" cy="610.9" r="1.45" fill="#000"/>
<circle cx="86.6" cy="610.9" r="1.45" fill="#000"/>
<circle cx="91.2" cy="610.9" r="1.45" fill="#000"/>
<circle cx="95.9" cy="610.9" r="1.45" fill="#000"/>
<circle cx="119.1" cy="610.9" r="1.45" fill="#000"/>
<circle cx="127.8" cy="610.9" r="1.45" fill="#000"/>
<circle cx="132.4" cy="610.9" r="1.45" fill="#000"/>
<circle cx="136.9" cy="610.9" r="1.45" fill="#000"/>
<circle cx="141.5" cy="610.9" r="1.45" fill="#000"/>
<circle cx="146.1" cy="610.9" r="1.45" fill="#000"/>
<circle cx="150.7" cy="610.9" r="1.45" fill="#000"/>
<circle cx="155.2" cy="610.9" r="1.45" fill="#000"/>
<line x1="61.5" y1="608.8" x2="61.5" y2="612.4" stroke="#111" stroke-width="0.95"/>
<line x1="114.7" y1="608.8" x2="114.7" y2="612.4" stroke="#111" stroke-width="0.95"/>
<line x1="29.9" y1="623.0" x2="39.9" y2="623.0" stroke="#666" stroke-width="0.8" stroke-dasharray="2.2 0.6"/>
<line x1="47.4" y1="621.2" x2="47.4" y2="632.3" stroke="#555" stroke-width="0.8"/>
<line x1="162.7" y1="623.2" x2="172.5" y2="623.2" stroke="#666" stroke-width="0.8" stroke-dasharray="2.2 0.6"/>
<line x1="155.4" y1="619.9" x2="155.4" y2="632.8" stroke="#555" stroke-width="0.8"/>
<text x="41.2" y="639.6" font-size="8.0" fill="#1c1c1c" stroke="#1c1c1c" stroke-width="0.2" textLength="13.2" lengthAdjust="spacingAndGlyphs">3034</text>
<text x="149.0" y="639.4" font-size="8.0" fill="#1c1c1c" stroke="#1c1c1c" stroke-width="0.2" textLength="12.6" lengthAdjust="spacingAndGlyphs">3064</text>
<text x="84.3" y="587.4" font-size="8.0" fill="#1c1c1c" stroke="#1c1c1c" stroke-width="0.2" textLength="34.5" lengthAdjust="spacingAndGlyphs">hsa–miR–16</text>
<text x="126.3" y="580.5" font-size="8.0" fill="#1c1c1c" stroke="#1c1c1c" stroke-width="0.2" textLength="52.4" lengthAdjust="spacingAndGlyphs">ΔG= –19.6 kcal/mol</text>
<text transform="translate(207.3 599.9) scale(0.74 1)" font-size="8.0" text-anchor="middle" fill="#1c1c1c" stroke="#1c1c1c" stroke-width="0.25">3'</text>
<text transform="translate(235.8 599.6) scale(0.74 1)" font-size="8.0" text-anchor="middle" fill="#1c1c1c" stroke="#1c1c1c" stroke-width="0.25">U</text>
<text transform="translate(270.1 599.6) scale(0.74 1)" font-size="8.0" text-anchor="middle" fill="#1c1c1c" stroke="#1c1c1c" stroke-width="0.25">U</text>
<text transform="translate(325.3 599.6) scale(0.74 1)" font-size="8.0" text-anchor="middle" fill="#1c1c1c" stroke="#1c1c1c" stroke-width="0.25">5'</text>
<text transform="translate(189.9 625.5) scale(0.74 1)" font-size="8.0" text-anchor="middle" fill="#1c1c1c" stroke="#1c1c1c" stroke-width="0.25">5'</text>
<text transform="translate(208.0 625.5) scale(0.74 1)" font-size="8.0" text-anchor="middle" fill="#1c1c1c" stroke="#1c1c1c" stroke-width="0.25">C</text>
<text transform="translate(263.0 626.2) scale(0.74 1)" font-size="8.0" text-anchor="middle" fill="#1c1c1c" stroke="#1c1c1c" stroke-width="0.25">U</text>
<text transform="translate(264.5 631.8) scale(0.74 1)" font-size="8.0" text-anchor="middle" fill="#1c1c1c" stroke="#1c1c1c" stroke-width="0.25">U</text>
<text transform="translate(266.0 638.8) scale(0.74 1)" font-size="8.0" text-anchor="middle" fill="#1c1c1c" stroke="#1c1c1c" stroke-width="0.25">C</text>
<text transform="translate(270.1 645.6) scale(0.74 1)" font-size="8.0" text-anchor="middle" fill="#1c1c1c" stroke="#1c1c1c" stroke-width="0.25">U</text>
<text transform="translate(274.3 638.8) scale(0.74 1)" font-size="8.0" text-anchor="middle" fill="#1c1c1c" stroke="#1c1c1c" stroke-width="0.25">U</text>
<text transform="translate(276.0 632.5) scale(0.74 1)" font-size="8.0" text-anchor="middle" fill="#1c1c1c" stroke="#1c1c1c" stroke-width="0.25">A</text>
<text transform="translate(277.3 626.2) scale(0.74 1)" font-size="8.0" text-anchor="middle" fill="#1c1c1c" stroke="#1c1c1c" stroke-width="0.25">U</text>
<text transform="translate(288.9 626.6) scale(0.74 1)" font-size="8.0" text-anchor="middle" fill="#1c1c1c" stroke="#1c1c1c" stroke-width="0.25">C</text>
<text transform="translate(324.4 625.5) scale(0.74 1)" font-size="8.0" text-anchor="middle" fill="#1c1c1c" stroke="#1c1c1c" stroke-width="0.25">C</text>
<text transform="translate(342.8 625.5) scale(0.74 1)" font-size="8.0" text-anchor="middle" fill="#1c1c1c" stroke="#1c1c1c" stroke-width="0.25">3'</text>
<text transform="translate(233.8 626.6) scale(0.74 1)" font-size="8.0" text-anchor="middle" fill="#1c1c1c" stroke="#1c1c1c" stroke-width="0.25">C</text>
<text transform="translate(238.0 626.6) scale(0.74 1)" font-size="8.0" text-anchor="middle" fill="#1c1c1c" stroke="#1c1c1c" stroke-width="0.25">U</text>
<text transform="translate(288.9 600.3) scale(0.74 1)" font-size="8.0" text-anchor="middle" fill="#e8202c" stroke="#e8202c" stroke-width="0.25">A</text>
<text transform="translate(211.9 607.3) scale(0.74 1)" font-size="8.0" text-anchor="middle" fill="#1c1c1c" stroke="#1c1c1c" stroke-width="0.25">G</text>
<text transform="translate(216.6 607.3) scale(0.74 1)" font-size="8.0" text-anchor="middle" fill="#1c1c1c" stroke="#1c1c1c" stroke-width="0.25">C</text>
<text transform="translate(221.2 607.3) scale(0.74 1)" font-size="8.0" text-anchor="middle" fill="#1c1c1c" stroke="#1c1c1c" stroke-width="0.25">G</text>
<text transform="translate(225.8 607.3) scale(0.74 1)" font-size="8.0" text-anchor="middle" fill="#1c1c1c" stroke="#1c1c1c" stroke-width="0.25">U</text>
<text transform="translate(230.5 607.3) scale(0.74 1)" font-size="8.0" text-anchor="middle" fill="#1c1c1c" stroke="#1c1c1c" stroke-width="0.25">U</text>
<text transform="translate(241.5 607.3) scale(0.74 1)" font-size="8.0" text-anchor="middle" fill="#1c1c1c" stroke="#1c1c1c" stroke-width="0.25">G</text>
<text transform="translate(246.1 607.3) scale(0.74 1)" font-size="8.0" text-anchor="middle" fill="#1c1c1c" stroke="#1c1c1c" stroke-width="0.25">G</text>
<text transform="translate(250.7 607.3) scale(0.74 1)" font-size="8.0" text-anchor="middle" fill="#1c1c1c" stroke="#1c1c1c" stroke-width="0.25">U</text>
<text transform="translate(255.3 607.3) scale(0.74 1)" font-size="8.0" text-anchor="middle" fill="#1c1c1c" stroke="#1c1c1c" stroke-width="0.25">A</text>
<text transform="translate(259.9 607.3) scale(0.74 1)" font-size="8.0" text-anchor="middle" fill="#1c1c1c" stroke="#1c1c1c" stroke-width="0.25">A</text>
<text transform="translate(280.2 607.3) scale(0.74 1)" font-size="8.0" text-anchor="middle" fill="#1c1c1c" stroke="#1c1c1c" stroke-width="0.25">A</text>
<text transform="translate(284.8 607.3) scale(0.74 1)" font-size="8.0" text-anchor="middle" fill="#1c1c1c" stroke="#1c1c1c" stroke-width="0.25">C</text>
<text transform="translate(293.4 607.3) scale(0.74 1)" font-size="8.0" text-anchor="middle" fill="#e8202c" stroke="#e8202c" stroke-width="0.25">C</text>
<text transform="translate(298.0 607.3) scale(0.74 1)" font-size="8.0" text-anchor="middle" fill="#e8202c" stroke="#e8202c" stroke-width="0.25">G</text>
<text transform="translate(302.6 607.3) scale(0.74 1)" font-size="8.0" text-anchor="middle" fill="#e8202c" stroke="#e8202c" stroke-width="0.25">A</text>
<text transform="translate(307.2 607.3) scale(0.74 1)" font-size="8.0" text-anchor="middle" fill="#e8202c" stroke="#e8202c" stroke-width="0.25">C</text>
<text transform="translate(311.8 607.3) scale(0.74 1)" font-size="8.0" text-anchor="middle" fill="#e8202c" stroke="#e8202c" stroke-width="0.25">G</text>
<text transform="translate(316.4 607.3) scale(0.74 1)" font-size="8.0" text-anchor="middle" fill="#e8202c" stroke="#e8202c" stroke-width="0.25">A</text>
<text transform="translate(321.0 607.3) scale(0.74 1)" font-size="8.0" text-anchor="middle" fill="#1c1c1c" stroke="#1c1c1c" stroke-width="0.25">U</text>
<text transform="translate(211.9 620.0) scale(0.74 1)" font-size="8.0" text-anchor="middle" fill="#1c1c1c" stroke="#1c1c1c" stroke-width="0.25">C</text>
<text transform="translate(216.6 620.0) scale(0.74 1)" font-size="8.0" text-anchor="middle" fill="#1c1c1c" stroke="#1c1c1c" stroke-width="0.25">G</text>
<text transform="translate(221.2 620.0) scale(0.74 1)" font-size="8.0" text-anchor="middle" fill="#1c1c1c" stroke="#1c1c1c" stroke-width="0.25">C</text>
<text transform="translate(225.8 620.0) scale(0.74 1)" font-size="8.0" text-anchor="middle" fill="#1c1c1c" stroke="#1c1c1c" stroke-width="0.25">A</text>
<text transform="translate(230.5 620.0) scale(0.74 1)" font-size="8.0" text-anchor="middle" fill="#1c1c1c" stroke="#1c1c1c" stroke-width="0.25">G</text>
<text transform="translate(241.5 620.0) scale(0.74 1)" font-size="8.0" text-anchor="middle" fill="#1c1c1c" stroke="#1c1c1c" stroke-width="0.25">C</text>
<text transform="translate(246.1 620.0) scale(0.74 1)" font-size="8.0" text-anchor="middle" fill="#1c1c1c" stroke="#1c1c1c" stroke-width="0.25">C</text>
<text transform="translate(250.7 620.0) scale(0.74 1)" font-size="8.0" text-anchor="middle" fill="#1c1c1c" stroke="#1c1c1c" stroke-width="0.25">A</text>
<text transform="translate(255.3 620.0) scale(0.74 1)" font-size="8.0" text-anchor="middle" fill="#1c1c1c" stroke="#1c1c1c" stroke-width="0.25">U</text>
<text transform="translate(259.9 620.0) scale(0.74 1)" font-size="8.0" text-anchor="middle" fill="#1c1c1c" stroke="#1c1c1c" stroke-width="0.25">U</text>
<text transform="translate(280.2 620.0) scale(0.74 1)" font-size="8.0" text-anchor="middle" fill="#1c1c1c" stroke="#1c1c1c" stroke-width="0.25">U</text>
<text transform="translate(284.8 620.0) scale(0.74 1)" font-size="8.0" text-anchor="middle" fill="#1c1c1c" stroke="#1c1c1c" stroke-width="0.25">G</text>
<text transform="translate(293.4 620.0) scale(0.74 1)" font-size="8.0" text-anchor="middle" fill="#1c1c1c" stroke="#1c1c1c" stroke-width="0.25">G</text>
<text transform="translate(298.0 620.0) scale(0.74 1)" font-size="8.0" text-anchor="middle" fill="#1c1c1c" stroke="#1c1c1c" stroke-width="0.25">C</text>
<text transform="translate(302.6 620.0) scale(0.74 1)" font-size="8.0" text-anchor="middle" fill="#1c1c1c" stroke="#1c1c1c" stroke-width="0.25">U</text>
<text transform="translate(307.2 620.0) scale(0.74 1)" font-size="8.0" text-anchor="middle" fill="#1c1c1c" stroke="#1c1c1c" stroke-width="0.25">G</text>
<text transform="translate(311.8 620.0) scale(0.74 1)" font-size="8.0" text-anchor="middle" fill="#1c1c1c" stroke="#1c1c1c" stroke-width="0.25">C</text>
<text transform="translate(316.4 620.0) scale(0.74 1)" font-size="8.0" text-anchor="middle" fill="#1c1c1c" stroke="#1c1c1c" stroke-width="0.25">U</text>
<text transform="translate(321.0 620.0) scale(0.74 1)" font-size="8.0" text-anchor="middle" fill="#1c1c1c" stroke="#1c1c1c" stroke-width="0.25">A</text>
<circle cx="211.9" cy="610.8" r="1.45" fill="#000"/>
<circle cx="216.6" cy="610.8" r="1.45" fill="#000"/>
<circle cx="221.2" cy="610.8" r="1.45" fill="#000"/>
<circle cx="225.8" cy="610.8" r="1.45" fill="#000"/>
<circle cx="241.5" cy="610.8" r="1.45" fill="#000"/>
<circle cx="246.1" cy="610.8" r="1.45" fill="#000"/>
<circle cx="250.7" cy="610.8" r="1.45" fill="#000"/>
<circle cx="255.3" cy="610.8" r="1.45" fill="#000"/>
<circle cx="259.9" cy="610.8" r="1.45" fill="#000"/>
<circle cx="280.2" cy="610.8" r="1.45" fill="#000"/>
<circle cx="284.8" cy="610.8" r="1.45" fill="#000"/>
<circle cx="293.4" cy="610.8" r="1.45" fill="#000"/>
<circle cx="298.0" cy="610.8" r="1.45" fill="#000"/>
<circle cx="302.6" cy="610.8" r="1.45" fill="#000"/>
<circle cx="307.2" cy="610.8" r="1.45" fill="#000"/>
<circle cx="311.8" cy="610.8" r="1.45" fill="#000"/>
<circle cx="316.4" cy="610.8" r="1.45" fill="#000"/>
<circle cx="321.0" cy="610.8" r="1.45" fill="#000"/>
<line x1="230.5" y1="608.7" x2="230.5" y2="612.3" stroke="#111" stroke-width="0.95"/>
<line x1="193.8" y1="623.2" x2="203.7" y2="623.2" stroke="#666" stroke-width="0.8" stroke-dasharray="2.2 0.6"/>
<line x1="211.9" y1="620.3" x2="211.9" y2="632.8" stroke="#555" stroke-width="0.8"/>
<line x1="328.6" y1="623.2" x2="338.4" y2="623.2" stroke="#666" stroke-width="0.8" stroke-dasharray="2.2 0.6"/>
<line x1="320.7" y1="620.3" x2="320.7" y2="632.8" stroke="#555" stroke-width="0.8"/>
<text x="205.2" y="639.4" font-size="8.0" fill="#1c1c1c" stroke="#1c1c1c" stroke-width="0.2" textLength="13.6" lengthAdjust="spacingAndGlyphs">3036</text>
<text x="314.5" y="639.4" font-size="8.0" fill="#1c1c1c" stroke="#1c1c1c" stroke-width="0.2" textLength="12.7" lengthAdjust="spacingAndGlyphs">3064</text>
<text x="243.1" y="587.5" font-size="8.0" fill="#1c1c1c" stroke="#1c1c1c" stroke-width="0.2" textLength="46.3" lengthAdjust="spacingAndGlyphs">conmiR–15/107.1</text>
<text x="291.1" y="580.5" font-size="8.0" fill="#1c1c1c" stroke="#1c1c1c" stroke-width="0.2" textLength="52.6" lengthAdjust="spacingAndGlyphs">ΔG= –26.2 kcal/mol</text>
<text transform="translate(366.9 594.4) scale(0.74 1)" font-size="8.0" text-anchor="middle" fill="#1c1c1c" stroke="#1c1c1c" stroke-width="0.25">3'</text>
<text transform="translate(371.5 601.0) scale(0.74 1)" font-size="8.0" text-anchor="middle" fill="#1c1c1c" stroke="#1c1c1c" stroke-width="0.25">U</text>
<text transform="translate(394.9 599.6) scale(0.74 1)" font-size="8.0" text-anchor="middle" fill="#1c1c1c" stroke="#1c1c1c" stroke-width="0.25">U</text>
<text transform="translate(428.8 599.6) scale(0.74 1)" font-size="8.0" text-anchor="middle" fill="#1c1c1c" stroke="#1c1c1c" stroke-width="0.25">U</text>
<text transform="translate(484.2 599.6) scale(0.74 1)" font-size="8.0" text-anchor="middle" fill="#1c1c1c" stroke="#1c1c1c" stroke-width="0.25">5'</text>
<text transform="translate(353.1 625.5) scale(0.74 1)" font-size="8.0" text-anchor="middle" fill="#1c1c1c" stroke="#1c1c1c" stroke-width="0.25">5'</text>
<text transform="translate(371.5 625.5) scale(0.74 1)" font-size="8.0" text-anchor="middle" fill="#1c1c1c" stroke="#1c1c1c" stroke-width="0.25">C</text>
<text transform="translate(421.8 626.2) scale(0.74 1)" font-size="8.0" text-anchor="middle" fill="#1c1c1c" stroke="#1c1c1c" stroke-width="0.25">U</text>
<text transform="translate(423.1 631.8) scale(0.74 1)" font-size="8.0" text-anchor="middle" fill="#1c1c1c" stroke="#1c1c1c" stroke-width="0.25">U</text>
<text transform="translate(424.6 638.8) scale(0.74 1)" font-size="8.0" text-anchor="middle" fill="#1c1c1c" stroke="#1c1c1c" stroke-width="0.25">C</text>
<text transform="translate(428.8 645.6) scale(0.74 1)" font-size="8.0" text-anchor="middle" fill="#1c1c1c" stroke="#1c1c1c" stroke-width="0.25">U</text>
<text transform="translate(433.0 638.8) scale(0.74 1)" font-size="8.0" text-anchor="middle" fill="#1c1c1c" stroke="#1c1c1c" stroke-width="0.25">U</text>
<text transform="translate(434.7 632.5) scale(0.74 1)" font-size="8.0" text-anchor="middle" fill="#1c1c1c" stroke="#1c1c1c" stroke-width="0.25">A</text>
<text transform="translate(436.0 626.2) scale(0.74 1)" font-size="8.0" text-anchor="middle" fill="#1c1c1c" stroke="#1c1c1c" stroke-width="0.25">U</text>
<text transform="translate(447.8 626.6) scale(0.74 1)" font-size="8.0" text-anchor="middle" fill="#1c1c1c" stroke="#1c1c1c" stroke-width="0.25">C</text>
<text transform="translate(483.3 625.5) scale(0.74 1)" font-size="8.0" text-anchor="middle" fill="#1c1c1c" stroke="#1c1c1c" stroke-width="0.25">C</text>
<text transform="translate(501.7 625.5) scale(0.74 1)" font-size="8.0" text-anchor="middle" fill="#1c1c1c" stroke="#1c1c1c" stroke-width="0.25">3'</text>
<text transform="translate(392.4 626.6) scale(0.74 1)" font-size="8.0" text-anchor="middle" fill="#1c1c1c" stroke="#1c1c1c" stroke-width="0.25">C</text>
<text transform="translate(396.6 626.6) scale(0.74 1)" font-size="8.0" text-anchor="middle" fill="#1c1c1c" stroke="#1c1c1c" stroke-width="0.25">U</text>
<text transform="translate(447.8 600.3) scale(0.74 1)" font-size="8.0" text-anchor="middle" fill="#e8202c" stroke="#e8202c" stroke-width="0.25">A</text>
<text transform="translate(375.2 607.3) scale(0.74 1)" font-size="8.0" text-anchor="middle" fill="#1c1c1c" stroke="#1c1c1c" stroke-width="0.25">C</text>
<text transform="translate(379.9 607.3) scale(0.74 1)" font-size="8.0" text-anchor="middle" fill="#1c1c1c" stroke="#1c1c1c" stroke-width="0.25">G</text>
<text transform="translate(384.5 607.3) scale(0.74 1)" font-size="8.0" text-anchor="middle" fill="#1c1c1c" stroke="#1c1c1c" stroke-width="0.25">U</text>
<text transform="translate(389.2 607.3) scale(0.74 1)" font-size="8.0" text-anchor="middle" fill="#1c1c1c" stroke="#1c1c1c" stroke-width="0.25">U</text>
<text transform="translate(400.2 607.3) scale(0.74 1)" font-size="8.0" text-anchor="middle" fill="#1c1c1c" stroke="#1c1c1c" stroke-width="0.25">G</text>
<text transform="translate(404.8 607.3) scale(0.74 1)" font-size="8.0" text-anchor="middle" fill="#1c1c1c" stroke="#1c1c1c" stroke-width="0.25">G</text>
<text transform="translate(409.4 607.3) scale(0.74 1)" font-size="8.0" text-anchor="middle" fill="#1c1c1c" stroke="#1c1c1c" stroke-width="0.25">U</text>
<text transform="translate(414.0 607.3) scale(0.74 1)" font-size="8.0" text-anchor="middle" fill="#1c1c1c" stroke="#1c1c1c" stroke-width="0.25">A</text>
<text transform="translate(418.6 607.3) scale(0.74 1)" font-size="8.0" text-anchor="middle" fill="#1c1c1c" stroke="#1c1c1c" stroke-width="0.25">A</text>
<text transform="translate(439.3 607.3) scale(0.74 1)" font-size="8.0" text-anchor="middle" fill="#1c1c1c" stroke="#1c1c1c" stroke-width="0.25">A</text>
<text transform="translate(443.9 607.3) scale(0.74 1)" font-size="8.0" text-anchor="middle" fill="#1c1c1c" stroke="#1c1c1c" stroke-width="0.25">C</text>
<text transform="translate(452.2 607.3) scale(0.74 1)" font-size="8.0" text-anchor="middle" fill="#e8202c" stroke="#e8202c" stroke-width="0.25">C</text>
<text transform="translate(456.8 607.3) scale(0.74 1)" font-size="8.0" text-anchor="middle" fill="#e8202c" stroke="#e8202c" stroke-width="0.25">G</text>
<text transform="translate(461.4 607.3) scale(0.74 1)" font-size="8.0" text-anchor="middle" fill="#e8202c" stroke="#e8202c" stroke-width="0.25">A</text>
<text transform="translate(466.0 607.3) scale(0.74 1)" font-size="8.0" text-anchor="middle" fill="#e8202c" stroke="#e8202c" stroke-width="0.25">C</text>
<text transform="translate(470.6 607.3) scale(0.74 1)" font-size="8.0" text-anchor="middle" fill="#e8202c" stroke="#e8202c" stroke-width="0.25">G</text>
<text transform="translate(475.2 607.3) scale(0.74 1)" font-size="8.0" text-anchor="middle" fill="#e8202c" stroke="#e8202c" stroke-width="0.25">A</text>
<text transform="translate(479.8 607.3) scale(0.74 1)" font-size="8.0" text-anchor="middle" fill="#1c1c1c" stroke="#1c1c1c" stroke-width="0.25">U</text>
<text transform="translate(375.2 620.0) scale(0.74 1)" font-size="8.0" text-anchor="middle" fill="#1c1c1c" stroke="#1c1c1c" stroke-width="0.25">G</text>
<text transform="translate(379.9 620.0) scale(0.74 1)" font-size="8.0" text-anchor="middle" fill="#1c1c1c" stroke="#1c1c1c" stroke-width="0.25">C</text>
<text transform="translate(384.5 620.0) scale(0.74 1)" font-size="8.0" text-anchor="middle" fill="#1c1c1c" stroke="#1c1c1c" stroke-width="0.25">A</text>
<text transform="translate(389.2 620.0) scale(0.74 1)" font-size="8.0" text-anchor="middle" fill="#1c1c1c" stroke="#1c1c1c" stroke-width="0.25">G</text>
<text transform="translate(400.2 620.0) scale(0.74 1)" font-size="8.0" text-anchor="middle" fill="#1c1c1c" stroke="#1c1c1c" stroke-width="0.25">C</text>
<text transform="translate(404.8 620.0) scale(0.74 1)" font-size="8.0" text-anchor="middle" fill="#1c1c1c" stroke="#1c1c1c" stroke-width="0.25">C</text>
<text transform="translate(409.4 620.0) scale(0.74 1)" font-size="8.0" text-anchor="middle" fill="#1c1c1c" stroke="#1c1c1c" stroke-width="0.25">A</text>
<text transform="translate(414.0 620.0) scale(0.74 1)" font-size="8.0" text-anchor="middle" fill="#1c1c1c" stroke="#1c1c1c" stroke-width="0.25">U</text>
<text transform="translate(418.6 620.0) scale(0.74 1)" font-size="8.0" text-anchor="middle" fill="#1c1c1c" stroke="#1c1c1c" stroke-width="0.25">U</text>
<text transform="translate(439.3 620.0) scale(0.74 1)" font-size="8.0" text-anchor="middle" fill="#1c1c1c" stroke="#1c1c1c" stroke-width="0.25">U</text>
<text transform="translate(443.9 620.0) scale(0.74 1)" font-size="8.0" text-anchor="middle" fill="#1c1c1c" stroke="#1c1c1c" stroke-width="0.25">G</text>
<text transform="translate(452.2 620.0) scale(0.74 1)" font-size="8.0" text-anchor="middle" fill="#1c1c1c" stroke="#1c1c1c" stroke-width="0.25">G</text>
<text transform="translate(456.8 620.0) scale(0.74 1)" font-size="8.0" text-anchor="middle" fill="#1c1c1c" stroke="#1c1c1c" stroke-width="0.25">C</text>
<text transform="translate(461.4 620.0) scale(0.74 1)" font-size="8.0" text-anchor="middle" fill="#1c1c1c" stroke="#1c1c1c" stroke-width="0.25">U</text>
<text transform="translate(466.0 620.0) scale(0.74 1)" font-size="8.0" text-anchor="middle" fill="#1c1c1c" stroke="#1c1c1c" stroke-width="0.25">G</text>
<text transform="translate(470.6 620.0) scale(0.74 1)" font-size="8.0" text-anchor="middle" fill="#1c1c1c" stroke="#1c1c1c" stroke-width="0.25">C</text>
<text transform="translate(475.2 620.0) scale(0.74 1)" font-size="8.0" text-anchor="middle" fill="#1c1c1c" stroke="#1c1c1c" stroke-width="0.25">U</text>
<text transform="translate(479.8 620.0) scale(0.74 1)" font-size="8.0" text-anchor="middle" fill="#1c1c1c" stroke="#1c1c1c" stroke-width="0.25">A</text>
<circle cx="375.2" cy="610.8" r="1.45" fill="#000"/>
<circle cx="379.9" cy="610.8" r="1.45" fill="#000"/>
<circle cx="384.5" cy="610.8" r="1.45" fill="#000"/>
<circle cx="400.2" cy="610.8" r="1.45" fill="#000"/>
<circle cx="404.8" cy="610.8" r="1.45" fill="#000"/>
<circle cx="409.4" cy="610.8" r="1.45" fill="#000"/>
<circle cx="414.0" cy="610.8" r="1.45" fill="#000"/>
<circle cx="418.6" cy="610.8" r="1.45" fill="#000"/>
<circle cx="439.3" cy="610.8" r="1.45" fill="#000"/>
<circle cx="443.9" cy="610.8" r="1.45" fill="#000"/>
<circle cx="452.2" cy="610.8" r="1.45" fill="#000"/>
<circle cx="456.8" cy="610.8" r="1.45" fill="#000"/>
<circle cx="461.4" cy="610.8" r="1.45" fill="#000"/>
<circle cx="466.0" cy="610.8" r="1.45" fill="#000"/>
<circle cx="470.6" cy="610.8" r="1.45" fill="#000"/>
<circle cx="475.2" cy="610.8" r="1.45" fill="#000"/>
<circle cx="479.8" cy="610.8" r="1.45" fill="#000"/>
<line x1="389.2" y1="608.7" x2="389.2" y2="612.3" stroke="#111" stroke-width="0.95"/>
<line x1="357.5" y1="623.2" x2="367.3" y2="623.2" stroke="#666" stroke-width="0.8" stroke-dasharray="2.2 0.6"/>
<line x1="375.2" y1="620.3" x2="375.2" y2="632.8" stroke="#555" stroke-width="0.8"/>
<line x1="487.3" y1="623.2" x2="497.1" y2="623.2" stroke="#666" stroke-width="0.8" stroke-dasharray="2.2 0.6"/>
<line x1="479.6" y1="620.3" x2="479.6" y2="632.8" stroke="#555" stroke-width="0.8"/>
<text x="369.0" y="639.4" font-size="8.0" fill="#1c1c1c" stroke="#1c1c1c" stroke-width="0.2" textLength="13.0" lengthAdjust="spacingAndGlyphs">3037</text>
<text x="473.3" y="639.4" font-size="8.0" fill="#1c1c1c" stroke="#1c1c1c" stroke-width="0.2" textLength="12.7" lengthAdjust="spacingAndGlyphs">3064</text>
<text x="404.0" y="587.5" font-size="8.0" fill="#1c1c1c" stroke="#1c1c1c" stroke-width="0.2" textLength="46.7" lengthAdjust="spacingAndGlyphs">conmiR–15/107.3</text>
<text x="451.1" y="580.5" font-size="8.0" fill="#1c1c1c" stroke="#1c1c1c" stroke-width="0.2" textLength="51.9" lengthAdjust="spacingAndGlyphs">ΔG= –25.0 kcal/mol</text>
<text transform="translate(527.6 598.4) scale(0.74 1)" font-size="8.3" text-anchor="middle" fill="#1c1c1c" stroke="#1c1c1c" stroke-width="0.25">3'</text>
<text transform="translate(557.8 598.2) scale(0.74 1)" font-size="8.3" text-anchor="middle" fill="#1c1c1c" stroke="#1c1c1c" stroke-width="0.25">U</text>
<text transform="translate(656.4 598.3) scale(0.74 1)" font-size="8.3" text-anchor="middle" fill="#1c1c1c" stroke="#1c1c1c" stroke-width="0.25">5'</text>
<text transform="translate(509.5 625.6) scale(0.74 1)" font-size="8.3" text-anchor="middle" fill="#1c1c1c" stroke="#1c1c1c" stroke-width="0.25">5'</text>
<text transform="translate(528.6 625.6) scale(0.74 1)" font-size="8.3" text-anchor="middle" fill="#1c1c1c" stroke="#1c1c1c" stroke-width="0.25">C</text>
<text transform="translate(577.1 626.3) scale(0.74 1)" font-size="8.3" text-anchor="middle" fill="#1c1c1c" stroke="#1c1c1c" stroke-width="0.25">U</text>
<text transform="translate(578.6 633.2) scale(0.74 1)" font-size="8.3" text-anchor="middle" fill="#1c1c1c" stroke="#1c1c1c" stroke-width="0.25">U</text>
<text transform="translate(588.3 633.2) scale(0.74 1)" font-size="8.3" text-anchor="middle" fill="#1c1c1c" stroke="#1c1c1c" stroke-width="0.25">C</text>
<text transform="translate(589.3 626.3) scale(0.74 1)" font-size="8.3" text-anchor="middle" fill="#1c1c1c" stroke="#1c1c1c" stroke-width="0.25">U</text>
<text transform="translate(617.6 626.9) scale(0.74 1)" font-size="8.3" text-anchor="middle" fill="#1c1c1c" stroke="#1c1c1c" stroke-width="0.25">C</text>
<text transform="translate(655.0 625.6) scale(0.74 1)" font-size="8.3" text-anchor="middle" fill="#1c1c1c" stroke="#1c1c1c" stroke-width="0.25">C</text>
<text transform="translate(674.6 625.6) scale(0.74 1)" font-size="8.3" text-anchor="middle" fill="#1c1c1c" stroke="#1c1c1c" stroke-width="0.25">3'</text>
<text transform="translate(555.8 626.9) scale(0.74 1)" font-size="8.3" text-anchor="middle" fill="#1c1c1c" stroke="#1c1c1c" stroke-width="0.25">C</text>
<text transform="translate(560.0 626.9) scale(0.74 1)" font-size="8.3" text-anchor="middle" fill="#1c1c1c" stroke="#1c1c1c" stroke-width="0.25">U</text>
<text transform="translate(581.6 640.4) scale(0.74 1)" font-size="8.3" text-anchor="middle" fill="#1c1c1c" stroke="#1c1c1c" stroke-width="0.25">U</text>
<text transform="translate(585.8 640.4) scale(0.74 1)" font-size="8.3" text-anchor="middle" fill="#1c1c1c" stroke="#1c1c1c" stroke-width="0.25">U</text>
<text transform="translate(617.2 598.3) scale(0.74 1)" font-size="8.3" text-anchor="middle" fill="#e8202c" stroke="#e8202c" stroke-width="0.25">A</text>
<text transform="translate(532.8 605.8) scale(0.74 1)" font-size="8.3" text-anchor="middle" fill="#1c1c1c" stroke="#1c1c1c" stroke-width="0.25">G</text>
<text transform="translate(537.6 605.8) scale(0.74 1)" font-size="8.3" text-anchor="middle" fill="#1c1c1c" stroke="#1c1c1c" stroke-width="0.25">C</text>
<text transform="translate(542.5 605.8) scale(0.74 1)" font-size="8.3" text-anchor="middle" fill="#1c1c1c" stroke="#1c1c1c" stroke-width="0.25">G</text>
<text transform="translate(547.3 605.8) scale(0.74 1)" font-size="8.3" text-anchor="middle" fill="#1c1c1c" stroke="#1c1c1c" stroke-width="0.25">U</text>
<text transform="translate(552.2 605.8) scale(0.74 1)" font-size="8.3" text-anchor="middle" fill="#1c1c1c" stroke="#1c1c1c" stroke-width="0.25">U</text>
<text transform="translate(564.0 605.8) scale(0.74 1)" font-size="8.3" text-anchor="middle" fill="#1c1c1c" stroke="#1c1c1c" stroke-width="0.25">G</text>
<text transform="translate(568.8 605.8) scale(0.74 1)" font-size="8.3" text-anchor="middle" fill="#1c1c1c" stroke="#1c1c1c" stroke-width="0.25">G</text>
<text transform="translate(573.6 605.8) scale(0.74 1)" font-size="8.3" text-anchor="middle" fill="#1c1c1c" stroke="#1c1c1c" stroke-width="0.25">U</text>
<text transform="translate(594.0 605.9) scale(0.74 1)" font-size="8.3" text-anchor="middle" fill="#1c1c1c" stroke="#1c1c1c" stroke-width="0.25">A</text>
<text transform="translate(598.8 605.9) scale(0.74 1)" font-size="8.3" text-anchor="middle" fill="#1c1c1c" stroke="#1c1c1c" stroke-width="0.25">U</text>
<text transform="translate(603.6 605.9) scale(0.74 1)" font-size="8.3" text-anchor="middle" fill="#1c1c1c" stroke="#1c1c1c" stroke-width="0.25">G</text>
<text transform="translate(608.4 605.9) scale(0.74 1)" font-size="8.3" text-anchor="middle" fill="#1c1c1c" stroke="#1c1c1c" stroke-width="0.25">A</text>
<text transform="translate(613.2 605.9) scale(0.74 1)" font-size="8.3" text-anchor="middle" fill="#1c1c1c" stroke="#1c1c1c" stroke-width="0.25">C</text>
<text transform="translate(622.1 605.9) scale(0.74 1)" font-size="8.3" text-anchor="middle" fill="#e8202c" stroke="#e8202c" stroke-width="0.25">C</text>
<text transform="translate(626.9 605.9) scale(0.74 1)" font-size="8.3" text-anchor="middle" fill="#e8202c" stroke="#e8202c" stroke-width="0.25">G</text>
<text transform="translate(631.7 605.9) scale(0.74 1)" font-size="8.3" text-anchor="middle" fill="#e8202c" stroke="#e8202c" stroke-width="0.25">A</text>
<text transform="translate(636.5 605.9) scale(0.74 1)" font-size="8.3" text-anchor="middle" fill="#e8202c" stroke="#e8202c" stroke-width="0.25">C</text>
<text transform="translate(641.3 605.9) scale(0.74 1)" font-size="8.3" text-anchor="middle" fill="#e8202c" stroke="#e8202c" stroke-width="0.25">G</text>
<text transform="translate(646.1 605.9) scale(0.74 1)" font-size="8.3" text-anchor="middle" fill="#e8202c" stroke="#e8202c" stroke-width="0.25">A</text>
<text transform="translate(651.0 605.9) scale(0.74 1)" font-size="8.3" text-anchor="middle" fill="#1c1c1c" stroke="#1c1c1c" stroke-width="0.25">U</text>
<text transform="translate(532.8 619.6) scale(0.74 1)" font-size="8.3" text-anchor="middle" fill="#1c1c1c" stroke="#1c1c1c" stroke-width="0.25">C</text>
<text transform="translate(537.6 619.6) scale(0.74 1)" font-size="8.3" text-anchor="middle" fill="#1c1c1c" stroke="#1c1c1c" stroke-width="0.25">G</text>
<text transform="translate(542.5 619.6) scale(0.74 1)" font-size="8.3" text-anchor="middle" fill="#1c1c1c" stroke="#1c1c1c" stroke-width="0.25">C</text>
<text transform="translate(547.3 619.6) scale(0.74 1)" font-size="8.3" text-anchor="middle" fill="#1c1c1c" stroke="#1c1c1c" stroke-width="0.25">A</text>
<text transform="translate(552.2 619.6) scale(0.74 1)" font-size="8.3" text-anchor="middle" fill="#1c1c1c" stroke="#1c1c1c" stroke-width="0.25">G</text>
<text transform="translate(564.0 619.6) scale(0.74 1)" font-size="8.3" text-anchor="middle" fill="#1c1c1c" stroke="#1c1c1c" stroke-width="0.25">C</text>
<text transform="translate(568.8 619.6) scale(0.74 1)" font-size="8.3" text-anchor="middle" fill="#1c1c1c" stroke="#1c1c1c" stroke-width="0.25">C</text>
<text transform="translate(573.6 619.6) scale(0.74 1)" font-size="8.3" text-anchor="middle" fill="#1c1c1c" stroke="#1c1c1c" stroke-width="0.25">A</text>
<text transform="translate(594.0 619.5) scale(0.74 1)" font-size="8.3" text-anchor="middle" fill="#1c1c1c" stroke="#1c1c1c" stroke-width="0.25">U</text>
<text transform="translate(598.8 619.5) scale(0.74 1)" font-size="8.3" text-anchor="middle" fill="#1c1c1c" stroke="#1c1c1c" stroke-width="0.25">A</text>
<text transform="translate(603.6 619.5) scale(0.74 1)" font-size="8.3" text-anchor="middle" fill="#1c1c1c" stroke="#1c1c1c" stroke-width="0.25">U</text>
<text transform="translate(608.4 619.5) scale(0.74 1)" font-size="8.3" text-anchor="middle" fill="#1c1c1c" stroke="#1c1c1c" stroke-width="0.25">U</text>
<text transform="translate(613.2 619.5) scale(0.74 1)" font-size="8.3" text-anchor="middle" fill="#1c1c1c" stroke="#1c1c1c" stroke-width="0.25">G</text>
<text transform="translate(622.1 619.5) scale(0.74 1)" font-size="8.3" text-anchor="middle" fill="#1c1c1c" stroke="#1c1c1c" stroke-width="0.25">G</text>
<text transform="translate(626.9 619.5) scale(0.74 1)" font-size="8.3" text-anchor="middle" fill="#1c1c1c" stroke="#1c1c1c" stroke-width="0.25">C</text>
<text transform="translate(631.7 619.5) scale(0.74 1)" font-size="8.3" text-anchor="middle" fill="#1c1c1c" stroke="#1c1c1c" stroke-width="0.25">U</text>
<text transform="translate(636.5 619.5) scale(0.74 1)" font-size="8.3" text-anchor="middle" fill="#1c1c1c" stroke="#1c1c1c" stroke-width="0.25">G</text>
<text transform="translate(641.3 619.5) scale(0.74 1)" font-size="8.3" text-anchor="middle" fill="#1c1c1c" stroke="#1c1c1c" stroke-width="0.25">C</text>
<text transform="translate(646.1 619.5) scale(0.74 1)" font-size="8.3" text-anchor="middle" fill="#1c1c1c" stroke="#1c1c1c" stroke-width="0.25">U</text>
<text transform="translate(651.0 619.5) scale(0.74 1)" font-size="8.3" text-anchor="middle" fill="#1c1c1c" stroke="#1c1c1c" stroke-width="0.25">A</text>
<circle cx="532.8" cy="610.3" r="1.5" fill="#000"/>
<circle cx="537.6" cy="610.3" r="1.5" fill="#000"/>
<circle cx="542.5" cy="610.3" r="1.5" fill="#000"/>
<circle cx="547.3" cy="610.3" r="1.5" fill="#000"/>
<circle cx="564.0" cy="610.3" r="1.5" fill="#000"/>
<circle cx="568.8" cy="610.3" r="1.5" fill="#000"/>
<circle cx="573.6" cy="610.3" r="1.5" fill="#000"/>
<circle cx="594.0" cy="610.3" r="1.5" fill="#000"/>
<circle cx="598.8" cy="610.3" r="1.5" fill="#000"/>
<circle cx="608.4" cy="610.3" r="1.5" fill="#000"/>
<circle cx="613.2" cy="610.3" r="1.5" fill="#000"/>
<circle cx="622.1" cy="610.3" r="1.5" fill="#000"/>
<circle cx="626.9" cy="610.3" r="1.5" fill="#000"/>
<circle cx="631.7" cy="610.3" r="1.5" fill="#000"/>
<circle cx="636.5" cy="610.3" r="1.5" fill="#000"/>
<circle cx="641.3" cy="610.3" r="1.5" fill="#000"/>
<circle cx="646.1" cy="610.3" r="1.5" fill="#000"/>
<circle cx="651.0" cy="610.3" r="1.5" fill="#000"/>
<line x1="552.2" y1="608.2" x2="552.2" y2="611.8" stroke="#111" stroke-width="0.95"/>
<line x1="603.6" y1="608.2" x2="603.6" y2="611.8" stroke="#111" stroke-width="0.95"/>
<line x1="513.8" y1="623.2" x2="523.6" y2="623.2" stroke="#666" stroke-width="0.8" stroke-dasharray="2.2 0.6"/>
<line x1="532.6" y1="620.3" x2="532.6" y2="632.8" stroke="#555" stroke-width="0.8"/>
<line x1="659.3" y1="623.2" x2="669.7" y2="623.2" stroke="#666" stroke-width="0.8" stroke-dasharray="2.2 0.6"/>
<line x1="651.3" y1="620.8" x2="651.3" y2="632.8" stroke="#555" stroke-width="0.8"/>
<text x="525.7" y="640.5" font-size="8.3" fill="#1c1c1c" stroke="#1c1c1c" stroke-width="0.2" textLength="13.6" lengthAdjust="spacingAndGlyphs">3036</text>
<text x="644.2" y="640.7" font-size="8.3" fill="#1c1c1c" stroke="#1c1c1c" stroke-width="0.2" textLength="14.1" lengthAdjust="spacingAndGlyphs">3064</text>
<text x="567.0" y="585.6" font-size="8.3" fill="#1c1c1c" stroke="#1c1c1c" stroke-width="0.2" textLength="49.8" lengthAdjust="spacingAndGlyphs">conmiR–15/107.4</text>
<text x="619.2" y="577.5" font-size="8.3" fill="#1c1c1c" stroke="#1c1c1c" stroke-width="0.2" textLength="56.7" lengthAdjust="spacingAndGlyphs">ΔG= –27.2 kcal/mol</text>
<text transform="translate(41.8 698.4) scale(0.74 1)" font-size="8.0" text-anchor="middle" fill="#1c1c1c" stroke="#1c1c1c" stroke-width="0.25">3'</text>
<text transform="translate(66.7 698.0) scale(0.74 1)" font-size="8.0" text-anchor="middle" fill="#1c1c1c" stroke="#1c1c1c" stroke-width="0.25">U</text>
<text transform="translate(172.2 698.0) scale(0.74 1)" font-size="8.0" text-anchor="middle" fill="#1c1c1c" stroke="#1c1c1c" stroke-width="0.25">5'</text>
<text transform="translate(24.1 723.6) scale(0.74 1)" font-size="8.0" text-anchor="middle" fill="#1c1c1c" stroke="#1c1c1c" stroke-width="0.25">5'</text>
<text transform="translate(42.9 723.6) scale(0.74 1)" font-size="8.0" text-anchor="middle" fill="#1c1c1c" stroke="#1c1c1c" stroke-width="0.25">U</text>
<text transform="translate(63.6 724.5) scale(0.74 1)" font-size="8.0" text-anchor="middle" fill="#1c1c1c" stroke="#1c1c1c" stroke-width="0.25">U</text>
<text transform="translate(66.7 730.8) scale(0.74 1)" font-size="8.0" text-anchor="middle" fill="#1c1c1c" stroke="#1c1c1c" stroke-width="0.25">C</text>
<text transform="translate(70.4 724.5) scale(0.74 1)" font-size="8.0" text-anchor="middle" fill="#1c1c1c" stroke="#1c1c1c" stroke-width="0.25">U</text>
<text transform="translate(90.1 724.5) scale(0.74 1)" font-size="8.0" text-anchor="middle" fill="#1c1c1c" stroke="#1c1c1c" stroke-width="0.25">A</text>
<text transform="translate(91.5 730.4) scale(0.74 1)" font-size="8.0" text-anchor="middle" fill="#1c1c1c" stroke="#1c1c1c" stroke-width="0.25">U</text>
<text transform="translate(92.8 736.9) scale(0.74 1)" font-size="8.0" text-anchor="middle" fill="#1c1c1c" stroke="#1c1c1c" stroke-width="0.25">C</text>
<text transform="translate(94.5 743.3) scale(0.74 1)" font-size="8.0" text-anchor="middle" fill="#1c1c1c" stroke="#1c1c1c" stroke-width="0.25">U</text>
<text transform="translate(96.0 750.5) scale(0.74 1)" font-size="8.0" text-anchor="middle" fill="#1c1c1c" stroke="#1c1c1c" stroke-width="0.25">C</text>
<text transform="translate(106.5 750.5) scale(0.74 1)" font-size="8.0" text-anchor="middle" fill="#1c1c1c" stroke="#1c1c1c" stroke-width="0.25">U</text>
<text transform="translate(108.0 744.0) scale(0.74 1)" font-size="8.0" text-anchor="middle" fill="#1c1c1c" stroke="#1c1c1c" stroke-width="0.25">C</text>
<text transform="translate(109.5 737.2) scale(0.74 1)" font-size="8.0" text-anchor="middle" fill="#1c1c1c" stroke="#1c1c1c" stroke-width="0.25">A</text>
<text transform="translate(111.3 730.8) scale(0.74 1)" font-size="8.0" text-anchor="middle" fill="#1c1c1c" stroke="#1c1c1c" stroke-width="0.25">C</text>
<text transform="translate(112.0 724.5) scale(0.74 1)" font-size="8.0" text-anchor="middle" fill="#1c1c1c" stroke="#1c1c1c" stroke-width="0.25">A</text>
<text transform="translate(171.5 723.6) scale(0.74 1)" font-size="8.0" text-anchor="middle" fill="#1c1c1c" stroke="#1c1c1c" stroke-width="0.25">U</text>
<text transform="translate(189.5 723.2) scale(0.74 1)" font-size="8.0" text-anchor="middle" fill="#1c1c1c" stroke="#1c1c1c" stroke-width="0.25">3'</text>
<text transform="translate(99.7 756.2) scale(0.74 1)" font-size="8.0" text-anchor="middle" fill="#1c1c1c" stroke="#1c1c1c" stroke-width="0.25">U</text>
<text transform="translate(103.5 756.2) scale(0.74 1)" font-size="8.0" text-anchor="middle" fill="#1c1c1c" stroke="#1c1c1c" stroke-width="0.25">U</text>
<text transform="translate(127.8 698.4) scale(0.74 1)" font-size="8.0" text-anchor="middle" fill="#1c1c1c" stroke="#1c1c1c" stroke-width="0.25">G</text>
<text transform="translate(132.3 698.4) scale(0.74 1)" font-size="8.0" text-anchor="middle" fill="#1c1c1c" stroke="#1c1c1c" stroke-width="0.25">C</text>
<text transform="translate(127.8 724.5) scale(0.74 1)" font-size="8.0" text-anchor="middle" fill="#1c1c1c" stroke="#1c1c1c" stroke-width="0.25">U</text>
<text transform="translate(132.3 724.5) scale(0.74 1)" font-size="8.0" text-anchor="middle" fill="#1c1c1c" stroke="#1c1c1c" stroke-width="0.25">U</text>
<text transform="translate(46.3 704.9) scale(0.74 1)" font-size="8.0" text-anchor="middle" fill="#1c1c1c" stroke="#1c1c1c" stroke-width="0.25">G</text>
<text transform="translate(51.0 704.9) scale(0.74 1)" font-size="8.0" text-anchor="middle" fill="#1c1c1c" stroke="#1c1c1c" stroke-width="0.25">C</text>
<text transform="translate(55.7 704.9) scale(0.74 1)" font-size="8.0" text-anchor="middle" fill="#1c1c1c" stroke="#1c1c1c" stroke-width="0.25">G</text>
<text transform="translate(60.2 704.9) scale(0.74 1)" font-size="8.0" text-anchor="middle" fill="#1c1c1c" stroke="#1c1c1c" stroke-width="0.25">G</text>
<text transform="translate(73.4 704.9) scale(0.74 1)" font-size="8.0" text-anchor="middle" fill="#1c1c1c" stroke="#1c1c1c" stroke-width="0.25">U</text>
<text transform="translate(77.9 704.9) scale(0.74 1)" font-size="8.0" text-anchor="middle" fill="#1c1c1c" stroke="#1c1c1c" stroke-width="0.25">A</text>
<text transform="translate(82.4 704.9) scale(0.74 1)" font-size="8.0" text-anchor="middle" fill="#1c1c1c" stroke="#1c1c1c" stroke-width="0.25">U</text>
<text transform="translate(87.0 704.9) scale(0.74 1)" font-size="8.0" text-anchor="middle" fill="#1c1c1c" stroke="#1c1c1c" stroke-width="0.25">A</text>
<text transform="translate(115.4 704.9) scale(0.74 1)" font-size="8.0" text-anchor="middle" fill="#1c1c1c" stroke="#1c1c1c" stroke-width="0.25">A</text>
<text transform="translate(119.9 704.9) scale(0.74 1)" font-size="8.0" text-anchor="middle" fill="#1c1c1c" stroke="#1c1c1c" stroke-width="0.25">A</text>
<text transform="translate(124.3 704.9) scale(0.74 1)" font-size="8.0" text-anchor="middle" fill="#1c1c1c" stroke="#1c1c1c" stroke-width="0.25">U</text>
<text transform="translate(135.4 704.9) scale(0.74 1)" font-size="8.0" text-anchor="middle" fill="#e8202c" stroke="#e8202c" stroke-width="0.25">A</text>
<text transform="translate(140.0 704.9) scale(0.74 1)" font-size="8.0" text-anchor="middle" fill="#e8202c" stroke="#e8202c" stroke-width="0.25">C</text>
<text transform="translate(144.7 704.9) scale(0.74 1)" font-size="8.0" text-anchor="middle" fill="#e8202c" stroke="#e8202c" stroke-width="0.25">G</text>
<text transform="translate(149.3 704.9) scale(0.74 1)" font-size="8.0" text-anchor="middle" fill="#e8202c" stroke="#e8202c" stroke-width="0.25">A</text>
<text transform="translate(153.9 704.9) scale(0.74 1)" font-size="8.0" text-anchor="middle" fill="#e8202c" stroke="#e8202c" stroke-width="0.25">C</text>
<text transform="translate(158.6 704.9) scale(0.74 1)" font-size="8.0" text-anchor="middle" fill="#e8202c" stroke="#e8202c" stroke-width="0.25">G</text>
<text transform="translate(163.2 704.9) scale(0.74 1)" font-size="8.0" text-anchor="middle" fill="#e8202c" stroke="#e8202c" stroke-width="0.25">A</text>
<text transform="translate(167.8 704.9) scale(0.74 1)" font-size="8.0" text-anchor="middle" fill="#1c1c1c" stroke="#1c1c1c" stroke-width="0.25">U</text>
<text transform="translate(46.3 717.8) scale(0.74 1)" font-size="8.0" text-anchor="middle" fill="#1c1c1c" stroke="#1c1c1c" stroke-width="0.25">C</text>
<text transform="translate(51.0 717.8) scale(0.74 1)" font-size="8.0" text-anchor="middle" fill="#1c1c1c" stroke="#1c1c1c" stroke-width="0.25">G</text>
<text transform="translate(55.7 717.8) scale(0.74 1)" font-size="8.0" text-anchor="middle" fill="#1c1c1c" stroke="#1c1c1c" stroke-width="0.25">C</text>
<text transform="translate(60.2 717.8) scale(0.74 1)" font-size="8.0" text-anchor="middle" fill="#1c1c1c" stroke="#1c1c1c" stroke-width="0.25">U</text>
<text transform="translate(73.4 717.8) scale(0.74 1)" font-size="8.0" text-anchor="middle" fill="#1c1c1c" stroke="#1c1c1c" stroke-width="0.25">G</text>
<text transform="translate(77.9 717.8) scale(0.74 1)" font-size="8.0" text-anchor="middle" fill="#1c1c1c" stroke="#1c1c1c" stroke-width="0.25">U</text>
<text transform="translate(82.4 717.8) scale(0.74 1)" font-size="8.0" text-anchor="middle" fill="#1c1c1c" stroke="#1c1c1c" stroke-width="0.25">G</text>
<text transform="translate(87.0 717.8) scale(0.74 1)" font-size="8.0" text-anchor="middle" fill="#1c1c1c" stroke="#1c1c1c" stroke-width="0.25">U</text>
<text transform="translate(115.4 717.8) scale(0.74 1)" font-size="8.0" text-anchor="middle" fill="#1c1c1c" stroke="#1c1c1c" stroke-width="0.25">U</text>
<text transform="translate(119.9 717.8) scale(0.74 1)" font-size="8.0" text-anchor="middle" fill="#1c1c1c" stroke="#1c1c1c" stroke-width="0.25">U</text>
<text transform="translate(124.3 717.8) scale(0.74 1)" font-size="8.0" text-anchor="middle" fill="#1c1c1c" stroke="#1c1c1c" stroke-width="0.25">G</text>
<text transform="translate(135.4 717.8) scale(0.74 1)" font-size="8.0" text-anchor="middle" fill="#1c1c1c" stroke="#1c1c1c" stroke-width="0.25">U</text>
<text transform="translate(140.0 717.8) scale(0.74 1)" font-size="8.0" text-anchor="middle" fill="#1c1c1c" stroke="#1c1c1c" stroke-width="0.25">G</text>
<text transform="translate(144.7 717.8) scale(0.74 1)" font-size="8.0" text-anchor="middle" fill="#1c1c1c" stroke="#1c1c1c" stroke-width="0.25">C</text>
<text transform="translate(149.3 717.8) scale(0.74 1)" font-size="8.0" text-anchor="middle" fill="#1c1c1c" stroke="#1c1c1c" stroke-width="0.25">U</text>
<text transform="translate(153.9 717.8) scale(0.74 1)" font-size="8.0" text-anchor="middle" fill="#1c1c1c" stroke="#1c1c1c" stroke-width="0.25">G</text>
<text transform="translate(158.6 717.8) scale(0.74 1)" font-size="8.0" text-anchor="middle" fill="#1c1c1c" stroke="#1c1c1c" stroke-width="0.25">C</text>
<text transform="translate(163.2 717.8) scale(0.74 1)" font-size="8.0" text-anchor="middle" fill="#1c1c1c" stroke="#1c1c1c" stroke-width="0.25">U</text>
<text transform="translate(167.8 717.8) scale(0.74 1)" font-size="8.0" text-anchor="middle" fill="#1c1c1c" stroke="#1c1c1c" stroke-width="0.25">A</text>
<circle cx="46.3" cy="708.9" r="1.45" fill="#000"/>
<circle cx="51.0" cy="708.9" r="1.45" fill="#000"/>
<circle cx="55.7" cy="708.9" r="1.45" fill="#000"/>
<circle cx="77.9" cy="708.9" r="1.45" fill="#000"/>
<circle cx="87.0" cy="708.9" r="1.45" fill="#000"/>
<circle cx="115.4" cy="708.9" r="1.45" fill="#000"/>
<circle cx="119.9" cy="708.9" r="1.45" fill="#000"/>
<circle cx="135.4" cy="708.9" r="1.45" fill="#000"/>
<circle cx="140.0" cy="708.9" r="1.45" fill="#000"/>
<circle cx="144.7" cy="708.9" r="1.45" fill="#000"/>
<circle cx="149.3" cy="708.9" r="1.45" fill="#000"/>
<circle cx="153.9" cy="708.9" r="1.45" fill="#000"/>
<circle cx="158.6" cy="708.9" r="1.45" fill="#000"/>
<circle cx="163.2" cy="708.9" r="1.45" fill="#000"/>
<circle cx="167.8" cy="708.9" r="1.45" fill="#000"/>
<line x1="60.2" y1="706.8" x2="60.2" y2="710.4" stroke="#111" stroke-width="0.95"/>
<line x1="73.4" y1="706.8" x2="73.4" y2="710.4" stroke="#111" stroke-width="0.95"/>
<line x1="82.4" y1="706.8" x2="82.4" y2="710.4" stroke="#111" stroke-width="0.95"/>
<line x1="124.3" y1="706.8" x2="124.3" y2="710.4" stroke="#111" stroke-width="0.95"/>
<line x1="28.4" y1="721.3" x2="38.4" y2="721.3" stroke="#666" stroke-width="0.8" stroke-dasharray="2.2 0.6"/>
<line x1="46.3" y1="717.9" x2="46.3" y2="730.8" stroke="#555" stroke-width="0.8"/>
<line x1="176.0" y1="721.0" x2="185.5" y2="721.0" stroke="#666" stroke-width="0.8" stroke-dasharray="2.2 0.6"/>
<line x1="167.6" y1="717.9" x2="167.6" y2="730.8" stroke="#555" stroke-width="0.8"/>
<text x="39.8" y="737.5" font-size="8.0" fill="#1c1c1c" stroke="#1c1c1c" stroke-width="0.2" textLength="13.2" lengthAdjust="spacingAndGlyphs">3102</text>
<text x="160.8" y="737.5" font-size="8.0" fill="#1c1c1c" stroke="#1c1c1c" stroke-width="0.2" textLength="13.1" lengthAdjust="spacingAndGlyphs">3137</text>
<text x="90.1" y="685.7" font-size="8.0" fill="#1c1c1c" stroke="#1c1c1c" stroke-width="0.2" textLength="33.9" lengthAdjust="spacingAndGlyphs">hsa–miR–16</text>
<text x="134.9" y="678.7" font-size="8.0" fill="#1c1c1c" stroke="#1c1c1c" stroke-width="0.2" textLength="53.3" lengthAdjust="spacingAndGlyphs">ΔG= –21.5 kcal/mol</text>
<text transform="translate(216.8 691.8) scale(0.74 1)" font-size="8.0" text-anchor="middle" fill="#1c1c1c" stroke="#1c1c1c" stroke-width="0.25">3'</text>
<text transform="translate(221.5 698.4) scale(0.74 1)" font-size="8.0" text-anchor="middle" fill="#1c1c1c" stroke="#1c1c1c" stroke-width="0.25">G</text>
<text transform="translate(239.2 697.0) scale(0.74 1)" font-size="8.0" text-anchor="middle" fill="#1c1c1c" stroke="#1c1c1c" stroke-width="0.25">U</text>
<text transform="translate(246.3 690.9) scale(0.74 1)" font-size="8.0" text-anchor="middle" fill="#1c1c1c" stroke="#1c1c1c" stroke-width="0.25">U</text>
<text transform="translate(253.3 697.7) scale(0.74 1)" font-size="8.0" text-anchor="middle" fill="#1c1c1c" stroke="#1c1c1c" stroke-width="0.25">G</text>
<text transform="translate(285.4 697.0) scale(0.74 1)" font-size="8.0" text-anchor="middle" fill="#1c1c1c" stroke="#1c1c1c" stroke-width="0.25">C</text>
<text transform="translate(326.0 696.7) scale(0.74 1)" font-size="8.0" text-anchor="middle" fill="#1c1c1c" stroke="#1c1c1c" stroke-width="0.25">5'</text>
<text transform="translate(203.1 722.5) scale(0.74 1)" font-size="8.0" text-anchor="middle" fill="#1c1c1c" stroke="#1c1c1c" stroke-width="0.25">5'</text>
<text transform="translate(221.5 722.5) scale(0.74 1)" font-size="8.0" text-anchor="middle" fill="#1c1c1c" stroke="#1c1c1c" stroke-width="0.25">U</text>
<text transform="translate(237.6 722.9) scale(0.74 1)" font-size="8.0" text-anchor="middle" fill="#1c1c1c" stroke="#1c1c1c" stroke-width="0.25">U</text>
<text transform="translate(238.8 729.4) scale(0.74 1)" font-size="8.0" text-anchor="middle" fill="#1c1c1c" stroke="#1c1c1c" stroke-width="0.25">C</text>
<text transform="translate(239.9 736.2) scale(0.74 1)" font-size="8.0" text-anchor="middle" fill="#1c1c1c" stroke="#1c1c1c" stroke-width="0.25">U</text>
<text transform="translate(241.9 743.3) scale(0.74 1)" font-size="8.0" text-anchor="middle" fill="#1c1c1c" stroke="#1c1c1c" stroke-width="0.25">C</text>
<text transform="translate(246.3 749.4) scale(0.74 1)" font-size="8.0" text-anchor="middle" fill="#1c1c1c" stroke="#1c1c1c" stroke-width="0.25">U</text>
<text transform="translate(250.8 742.9) scale(0.74 1)" font-size="8.0" text-anchor="middle" fill="#1c1c1c" stroke="#1c1c1c" stroke-width="0.25">U</text>
<text transform="translate(252.7 736.3) scale(0.74 1)" font-size="8.0" text-anchor="middle" fill="#1c1c1c" stroke="#1c1c1c" stroke-width="0.25">U</text>
<text transform="translate(253.9 729.8) scale(0.74 1)" font-size="8.0" text-anchor="middle" fill="#1c1c1c" stroke="#1c1c1c" stroke-width="0.25">C</text>
<text transform="translate(255.2 723.4) scale(0.74 1)" font-size="8.0" text-anchor="middle" fill="#1c1c1c" stroke="#1c1c1c" stroke-width="0.25">A</text>
<text transform="translate(285.4 723.3) scale(0.74 1)" font-size="8.0" text-anchor="middle" fill="#1c1c1c" stroke="#1c1c1c" stroke-width="0.25">U</text>
<text transform="translate(325.6 722.6) scale(0.74 1)" font-size="8.0" text-anchor="middle" fill="#1c1c1c" stroke="#1c1c1c" stroke-width="0.25">U</text>
<text transform="translate(343.2 722.1) scale(0.74 1)" font-size="8.0" text-anchor="middle" fill="#1c1c1c" stroke="#1c1c1c" stroke-width="0.25">3'</text>
<text transform="translate(225.3 703.7) scale(0.74 1)" font-size="8.0" text-anchor="middle" fill="#1c1c1c" stroke="#1c1c1c" stroke-width="0.25">C</text>
<text transform="translate(229.9 703.7) scale(0.74 1)" font-size="8.0" text-anchor="middle" fill="#1c1c1c" stroke="#1c1c1c" stroke-width="0.25">G</text>
<text transform="translate(234.5 703.7) scale(0.74 1)" font-size="8.0" text-anchor="middle" fill="#1c1c1c" stroke="#1c1c1c" stroke-width="0.25">U</text>
<text transform="translate(258.3 703.7) scale(0.74 1)" font-size="8.0" text-anchor="middle" fill="#1c1c1c" stroke="#1c1c1c" stroke-width="0.25">G</text>
<text transform="translate(262.9 703.7) scale(0.74 1)" font-size="8.0" text-anchor="middle" fill="#1c1c1c" stroke="#1c1c1c" stroke-width="0.25">U</text>
<text transform="translate(267.6 703.7) scale(0.74 1)" font-size="8.0" text-anchor="middle" fill="#1c1c1c" stroke="#1c1c1c" stroke-width="0.25">A</text>
<text transform="translate(272.2 703.7) scale(0.74 1)" font-size="8.0" text-anchor="middle" fill="#1c1c1c" stroke="#1c1c1c" stroke-width="0.25">A</text>
<text transform="translate(276.9 703.7) scale(0.74 1)" font-size="8.0" text-anchor="middle" fill="#1c1c1c" stroke="#1c1c1c" stroke-width="0.25">U</text>
<text transform="translate(281.5 703.7) scale(0.74 1)" font-size="8.0" text-anchor="middle" fill="#1c1c1c" stroke="#1c1c1c" stroke-width="0.25">A</text>
<text transform="translate(289.5 703.7) scale(0.74 1)" font-size="8.0" text-anchor="middle" fill="#e8202c" stroke="#e8202c" stroke-width="0.25">A</text>
<text transform="translate(294.1 703.7) scale(0.74 1)" font-size="8.0" text-anchor="middle" fill="#e8202c" stroke="#e8202c" stroke-width="0.25">C</text>
<text transform="translate(298.7 703.7) scale(0.74 1)" font-size="8.0" text-anchor="middle" fill="#e8202c" stroke="#e8202c" stroke-width="0.25">G</text>
<text transform="translate(303.4 703.7) scale(0.74 1)" font-size="8.0" text-anchor="middle" fill="#e8202c" stroke="#e8202c" stroke-width="0.25">A</text>
<text transform="translate(308.0 703.7) scale(0.74 1)" font-size="8.0" text-anchor="middle" fill="#e8202c" stroke="#e8202c" stroke-width="0.25">C</text>
<text transform="translate(312.6 703.7) scale(0.74 1)" font-size="8.0" text-anchor="middle" fill="#e8202c" stroke="#e8202c" stroke-width="0.25">G</text>
<text transform="translate(317.2 703.7) scale(0.74 1)" font-size="8.0" text-anchor="middle" fill="#e8202c" stroke="#e8202c" stroke-width="0.25">A</text>
<text transform="translate(321.8 703.7) scale(0.74 1)" font-size="8.0" text-anchor="middle" fill="#1c1c1c" stroke="#1c1c1c" stroke-width="0.25">U</text>
<text transform="translate(225.3 716.9) scale(0.74 1)" font-size="8.0" text-anchor="middle" fill="#1c1c1c" stroke="#1c1c1c" stroke-width="0.25">G</text>
<text transform="translate(229.9 716.9) scale(0.74 1)" font-size="8.0" text-anchor="middle" fill="#1c1c1c" stroke="#1c1c1c" stroke-width="0.25">U</text>
<text transform="translate(234.5 716.9) scale(0.74 1)" font-size="8.0" text-anchor="middle" fill="#1c1c1c" stroke="#1c1c1c" stroke-width="0.25">A</text>
<text transform="translate(258.3 716.9) scale(0.74 1)" font-size="8.0" text-anchor="middle" fill="#1c1c1c" stroke="#1c1c1c" stroke-width="0.25">C</text>
<text transform="translate(262.9 716.9) scale(0.74 1)" font-size="8.0" text-anchor="middle" fill="#1c1c1c" stroke="#1c1c1c" stroke-width="0.25">A</text>
<text transform="translate(267.6 716.9) scale(0.74 1)" font-size="8.0" text-anchor="middle" fill="#1c1c1c" stroke="#1c1c1c" stroke-width="0.25">U</text>
<text transform="translate(272.2 716.9) scale(0.74 1)" font-size="8.0" text-anchor="middle" fill="#1c1c1c" stroke="#1c1c1c" stroke-width="0.25">U</text>
<text transform="translate(276.9 716.9) scale(0.74 1)" font-size="8.0" text-anchor="middle" fill="#1c1c1c" stroke="#1c1c1c" stroke-width="0.25">G</text>
<text transform="translate(281.5 716.9) scale(0.74 1)" font-size="8.0" text-anchor="middle" fill="#1c1c1c" stroke="#1c1c1c" stroke-width="0.25">U</text>
<text transform="translate(289.5 716.9) scale(0.74 1)" font-size="8.0" text-anchor="middle" fill="#1c1c1c" stroke="#1c1c1c" stroke-width="0.25">U</text>
<text transform="translate(294.1 716.9) scale(0.74 1)" font-size="8.0" text-anchor="middle" fill="#1c1c1c" stroke="#1c1c1c" stroke-width="0.25">G</text>
<text transform="translate(298.7 716.9) scale(0.74 1)" font-size="8.0" text-anchor="middle" fill="#1c1c1c" stroke="#1c1c1c" stroke-width="0.25">C</text>
<text transform="translate(303.4 716.9) scale(0.74 1)" font-size="8.0" text-anchor="middle" fill="#1c1c1c" stroke="#1c1c1c" stroke-width="0.25">U</text>
<text transform="translate(308.0 716.9) scale(0.74 1)" font-size="8.0" text-anchor="middle" fill="#1c1c1c" stroke="#1c1c1c" stroke-width="0.25">G</text>
<text transform="translate(312.6 716.9) scale(0.74 1)" font-size="8.0" text-anchor="middle" fill="#1c1c1c" stroke="#1c1c1c" stroke-width="0.25">C</text>
<text transform="translate(317.2 716.9) scale(0.74 1)" font-size="8.0" text-anchor="middle" fill="#1c1c1c" stroke="#1c1c1c" stroke-width="0.25">U</text>
<text transform="translate(321.8 716.9) scale(0.74 1)" font-size="8.0" text-anchor="middle" fill="#1c1c1c" stroke="#1c1c1c" stroke-width="0.25">A</text>
<circle cx="225.3" cy="708.0" r="1.45" fill="#000"/>
<circle cx="234.5" cy="708.0" r="1.45" fill="#000"/>
<circle cx="258.3" cy="708.0" r="1.45" fill="#000"/>
<circle cx="262.9" cy="708.0" r="1.45" fill="#000"/>
<circle cx="267.6" cy="708.0" r="1.45" fill="#000"/>
<circle cx="272.2" cy="708.0" r="1.45" fill="#000"/>
<circle cx="281.5" cy="708.0" r="1.45" fill="#000"/>
<circle cx="289.5" cy="708.0" r="1.45" fill="#000"/>
<circle cx="294.1" cy="708.0" r="1.45" fill="#000"/>
<circle cx="298.7" cy="708.0" r="1.45" fill="#000"/>
<circle cx="303.4" cy="708.0" r="1.45" fill="#000"/>
<circle cx="308.0" cy="708.0" r="1.45" fill="#000"/>
<circle cx="312.6" cy="708.0" r="1.45" fill="#000"/>
<circle cx="317.2" cy="708.0" r="1.45" fill="#000"/>
<circle cx="321.8" cy="708.0" r="1.45" fill="#000"/>
<line x1="229.9" y1="705.9" x2="229.9" y2="709.5" stroke="#111" stroke-width="0.95"/>
<line x1="276.9" y1="705.9" x2="276.9" y2="709.5" stroke="#111" stroke-width="0.95"/>
<line x1="207.6" y1="720.2" x2="217.4" y2="720.2" stroke="#666" stroke-width="0.8" stroke-dasharray="2.2 0.6"/>
<line x1="225.3" y1="717.2" x2="225.3" y2="729.4" stroke="#555" stroke-width="0.8"/>
<line x1="330.2" y1="720.3" x2="339.5" y2="720.3" stroke="#666" stroke-width="0.8" stroke-dasharray="2.2 0.6"/>
<line x1="321.4" y1="717.6" x2="321.4" y2="729.3" stroke="#555" stroke-width="0.8"/>
<text x="218.9" y="736.8" font-size="8.0" fill="#1c1c1c" stroke="#1c1c1c" stroke-width="0.2" textLength="12.5" lengthAdjust="spacingAndGlyphs">3111</text>
<text x="315.0" y="736.8" font-size="8.0" fill="#1c1c1c" stroke="#1c1c1c" stroke-width="0.2" textLength="13.3" lengthAdjust="spacingAndGlyphs">3137</text>
<text x="250.0" y="678.2" font-size="8.0" fill="#1c1c1c" stroke="#1c1c1c" stroke-width="0.2" textLength="46.5" lengthAdjust="spacingAndGlyphs">conmiR–15/107.1</text>
<text x="295.1" y="671.0" font-size="8.0" fill="#1c1c1c" stroke="#1c1c1c" stroke-width="0.2" textLength="53.6" lengthAdjust="spacingAndGlyphs">ΔG= –23.7 kcal/mol</text>
<text transform="translate(387.0 659.0) scale(0.74 1)" font-size="8.0" text-anchor="middle" fill="#1c1c1c" stroke="#1c1c1c" stroke-width="0.25">3'</text>
<text transform="translate(391.8 665.7) scale(0.74 1)" font-size="8.0" text-anchor="middle" fill="#1c1c1c" stroke="#1c1c1c" stroke-width="0.25">U</text>
<text transform="translate(394.9 670.5) scale(0.74 1)" font-size="8.0" text-anchor="middle" fill="#1c1c1c" stroke="#1c1c1c" stroke-width="0.25">C</text>
<text transform="translate(398.9 675.9) scale(0.74 1)" font-size="8.0" text-anchor="middle" fill="#1c1c1c" stroke="#1c1c1c" stroke-width="0.25">G</text>
<text transform="translate(402.6 681.7) scale(0.74 1)" font-size="8.0" text-anchor="middle" fill="#1c1c1c" stroke="#1c1c1c" stroke-width="0.25">U</text>
<text transform="translate(406.1 687.3) scale(0.74 1)" font-size="8.0" text-anchor="middle" fill="#1c1c1c" stroke="#1c1c1c" stroke-width="0.25">U</text>
<text transform="translate(410.1 692.3) scale(0.74 1)" font-size="8.0" text-anchor="middle" fill="#1c1c1c" stroke="#1c1c1c" stroke-width="0.25">U</text>
<text transform="translate(413.8 698.1) scale(0.74 1)" font-size="8.0" text-anchor="middle" fill="#1c1c1c" stroke="#1c1c1c" stroke-width="0.25">G</text>
<text transform="translate(444.8 697.0) scale(0.74 1)" font-size="8.0" text-anchor="middle" fill="#1c1c1c" stroke="#1c1c1c" stroke-width="0.25">C</text>
<text transform="translate(485.6 696.6) scale(0.74 1)" font-size="8.0" text-anchor="middle" fill="#1c1c1c" stroke="#1c1c1c" stroke-width="0.25">5'</text>
<text transform="translate(395.2 721.9) scale(0.74 1)" font-size="8.0" text-anchor="middle" fill="#1c1c1c" stroke="#1c1c1c" stroke-width="0.25">5'</text>
<text transform="translate(414.1 721.9) scale(0.74 1)" font-size="8.0" text-anchor="middle" fill="#1c1c1c" stroke="#1c1c1c" stroke-width="0.25">A</text>
<text transform="translate(444.8 723.1) scale(0.74 1)" font-size="8.0" text-anchor="middle" fill="#1c1c1c" stroke="#1c1c1c" stroke-width="0.25">U</text>
<text transform="translate(484.6 721.9) scale(0.74 1)" font-size="8.0" text-anchor="middle" fill="#1c1c1c" stroke="#1c1c1c" stroke-width="0.25">U</text>
<text transform="translate(502.9 721.9) scale(0.74 1)" font-size="8.0" text-anchor="middle" fill="#1c1c1c" stroke="#1c1c1c" stroke-width="0.25">3'</text>
<text transform="translate(417.5 703.8) scale(0.74 1)" font-size="8.0" text-anchor="middle" fill="#1c1c1c" stroke="#1c1c1c" stroke-width="0.25">G</text>
<text transform="translate(422.1 703.8) scale(0.74 1)" font-size="8.0" text-anchor="middle" fill="#1c1c1c" stroke="#1c1c1c" stroke-width="0.25">U</text>
<text transform="translate(426.7 703.8) scale(0.74 1)" font-size="8.0" text-anchor="middle" fill="#1c1c1c" stroke="#1c1c1c" stroke-width="0.25">A</text>
<text transform="translate(431.4 703.8) scale(0.74 1)" font-size="8.0" text-anchor="middle" fill="#1c1c1c" stroke="#1c1c1c" stroke-width="0.25">A</text>
<text transform="translate(436.0 703.8) scale(0.74 1)" font-size="8.0" text-anchor="middle" fill="#1c1c1c" stroke="#1c1c1c" stroke-width="0.25">U</text>
<text transform="translate(440.6 703.8) scale(0.74 1)" font-size="8.0" text-anchor="middle" fill="#1c1c1c" stroke="#1c1c1c" stroke-width="0.25">A</text>
<text transform="translate(449.1 703.8) scale(0.74 1)" font-size="8.0" text-anchor="middle" fill="#e8202c" stroke="#e8202c" stroke-width="0.25">A</text>
<text transform="translate(453.7 703.8) scale(0.74 1)" font-size="8.0" text-anchor="middle" fill="#e8202c" stroke="#e8202c" stroke-width="0.25">C</text>
<text transform="translate(458.3 703.8) scale(0.74 1)" font-size="8.0" text-anchor="middle" fill="#e8202c" stroke="#e8202c" stroke-width="0.25">G</text>
<text transform="translate(462.8 703.8) scale(0.74 1)" font-size="8.0" text-anchor="middle" fill="#e8202c" stroke="#e8202c" stroke-width="0.25">A</text>
<text transform="translate(467.4 703.8) scale(0.74 1)" font-size="8.0" text-anchor="middle" fill="#e8202c" stroke="#e8202c" stroke-width="0.25">C</text>
<text transform="translate(472.0 703.8) scale(0.74 1)" font-size="8.0" text-anchor="middle" fill="#e8202c" stroke="#e8202c" stroke-width="0.25">G</text>
<text transform="translate(476.6 703.8) scale(0.74 1)" font-size="8.0" text-anchor="middle" fill="#e8202c" stroke="#e8202c" stroke-width="0.25">A</text>
<text transform="translate(481.2 703.8) scale(0.74 1)" font-size="8.0" text-anchor="middle" fill="#1c1c1c" stroke="#1c1c1c" stroke-width="0.25">U</text>
<text transform="translate(417.5 716.7) scale(0.74 1)" font-size="8.0" text-anchor="middle" fill="#1c1c1c" stroke="#1c1c1c" stroke-width="0.25">C</text>
<text transform="translate(422.1 716.7) scale(0.74 1)" font-size="8.0" text-anchor="middle" fill="#1c1c1c" stroke="#1c1c1c" stroke-width="0.25">A</text>
<text transform="translate(426.7 716.7) scale(0.74 1)" font-size="8.0" text-anchor="middle" fill="#1c1c1c" stroke="#1c1c1c" stroke-width="0.25">U</text>
<text transform="translate(431.4 716.7) scale(0.74 1)" font-size="8.0" text-anchor="middle" fill="#1c1c1c" stroke="#1c1c1c" stroke-width="0.25">U</text>
<text transform="translate(436.0 716.7) scale(0.74 1)" font-size="8.0" text-anchor="middle" fill="#1c1c1c" stroke="#1c1c1c" stroke-width="0.25">G</text>
<text transform="translate(440.6 716.7) scale(0.74 1)" font-size="8.0" text-anchor="middle" fill="#1c1c1c" stroke="#1c1c1c" stroke-width="0.25">U</text>
<text transform="translate(449.1 716.7) scale(0.74 1)" font-size="8.0" text-anchor="middle" fill="#1c1c1c" stroke="#1c1c1c" stroke-width="0.25">U</text>
<text transform="translate(453.7 716.7) scale(0.74 1)" font-size="8.0" text-anchor="middle" fill="#1c1c1c" stroke="#1c1c1c" stroke-width="0.25">G</text>
<text transform="translate(458.3 716.7) scale(0.74 1)" font-size="8.0" text-anchor="middle" fill="#1c1c1c" stroke="#1c1c1c" stroke-width="0.25">C</text>
<text transform="translate(462.8 716.7) scale(0.74 1)" font-size="8.0" text-anchor="middle" fill="#1c1c1c" stroke="#1c1c1c" stroke-width="0.25">U</text>
<text transform="translate(467.4 716.7) scale(0.74 1)" font-size="8.0" text-anchor="middle" fill="#1c1c1c" stroke="#1c1c1c" stroke-width="0.25">G</text>
<text transform="translate(472.0 716.7) scale(0.74 1)" font-size="8.0" text-anchor="middle" fill="#1c1c1c" stroke="#1c1c1c" stroke-width="0.25">C</text>
<text transform="translate(476.6 716.7) scale(0.74 1)" font-size="8.0" text-anchor="middle" fill="#1c1c1c" stroke="#1c1c1c" stroke-width="0.25">U</text>
<text transform="translate(481.2 716.7) scale(0.74 1)" font-size="8.0" text-anchor="middle" fill="#1c1c1c" stroke="#1c1c1c" stroke-width="0.25">A</text>
<circle cx="417.5" cy="707.7" r="1.45" fill="#000"/>
<circle cx="422.1" cy="707.7" r="1.45" fill="#000"/>
<circle cx="426.7" cy="707.7" r="1.45" fill="#000"/>
<circle cx="431.4" cy="707.7" r="1.45" fill="#000"/>
<circle cx="440.6" cy="707.7" r="1.45" fill="#000"/>
<circle cx="449.1" cy="707.7" r="1.45" fill="#000"/>
<circle cx="453.7" cy="707.7" r="1.45" fill="#000"/>
<circle cx="458.3" cy="707.7" r="1.45" fill="#000"/>
<circle cx="462.8" cy="707.7" r="1.45" fill="#000"/>
<circle cx="467.4" cy="707.7" r="1.45" fill="#000"/>
<circle cx="472.0" cy="707.7" r="1.45" fill="#000"/>
<circle cx="476.6" cy="707.7" r="1.45" fill="#000"/>
<circle cx="481.2" cy="707.7" r="1.45" fill="#000"/>
<line x1="436.0" y1="705.6" x2="436.0" y2="709.2" stroke="#111" stroke-width="0.95"/>
<line x1="399.7" y1="719.6" x2="409.4" y2="719.6" stroke="#666" stroke-width="0.8" stroke-dasharray="2.2 0.6"/>
<line x1="417.6" y1="716.4" x2="417.6" y2="729.0" stroke="#555" stroke-width="0.8"/>
<line x1="489.0" y1="719.6" x2="498.0" y2="719.6" stroke="#666" stroke-width="0.8" stroke-dasharray="2.2 0.6"/>
<line x1="481.1" y1="716.4" x2="481.1" y2="729.0" stroke="#555" stroke-width="0.8"/>
<text x="410.9" y="736.1" font-size="8.0" fill="#1c1c1c" stroke="#1c1c1c" stroke-width="0.2" textLength="13.3" lengthAdjust="spacingAndGlyphs">3123</text>
<text x="474.2" y="736.1" font-size="8.0" fill="#1c1c1c" stroke="#1c1c1c" stroke-width="0.2" textLength="13.3" lengthAdjust="spacingAndGlyphs">3137</text>
<text x="425.7" y="684.7" font-size="8.0" fill="#1c1c1c" stroke="#1c1c1c" stroke-width="0.2" textLength="46.9" lengthAdjust="spacingAndGlyphs">conmiR–15/107.3</text>
<text x="463.4" y="677.2" font-size="8.0" fill="#1c1c1c" stroke="#1c1c1c" stroke-width="0.2" textLength="52.6" lengthAdjust="spacingAndGlyphs">ΔG= –23.7 kcal/mol</text>
<text transform="translate(550.6 690.3) scale(0.74 1)" font-size="8.0" text-anchor="middle" fill="#1c1c1c" stroke="#1c1c1c" stroke-width="0.25">3'</text>
<text transform="translate(555.1 696.7) scale(0.74 1)" font-size="8.0" text-anchor="middle" fill="#1c1c1c" stroke="#1c1c1c" stroke-width="0.25">G</text>
<text transform="translate(573.0 695.6) scale(0.74 1)" font-size="8.0" text-anchor="middle" fill="#1c1c1c" stroke="#1c1c1c" stroke-width="0.25">U</text>
<text transform="translate(580.1 689.1) scale(0.74 1)" font-size="8.0" text-anchor="middle" fill="#1c1c1c" stroke="#1c1c1c" stroke-width="0.25">U</text>
<text transform="translate(587.0 696.1) scale(0.74 1)" font-size="8.0" text-anchor="middle" fill="#1c1c1c" stroke="#1c1c1c" stroke-width="0.25">G</text>
<text transform="translate(612.3 702.6) scale(0.74 1)" font-size="8.0" text-anchor="middle" fill="#1c1c1c" stroke="#1c1c1c" stroke-width="0.25">A</text>
<text transform="translate(616.3 695.7) scale(0.74 1)" font-size="8.0" text-anchor="middle" fill="#1c1c1c" stroke="#1c1c1c" stroke-width="0.25">C</text>
<text transform="translate(656.9 695.3) scale(0.74 1)" font-size="8.0" text-anchor="middle" fill="#1c1c1c" stroke="#1c1c1c" stroke-width="0.25">5'</text>
<text transform="translate(536.8 721.2) scale(0.74 1)" font-size="8.0" text-anchor="middle" fill="#1c1c1c" stroke="#1c1c1c" stroke-width="0.25">5'</text>
<text transform="translate(555.1 721.2) scale(0.74 1)" font-size="8.0" text-anchor="middle" fill="#1c1c1c" stroke="#1c1c1c" stroke-width="0.25">U</text>
<text transform="translate(571.4 721.9) scale(0.74 1)" font-size="8.0" text-anchor="middle" fill="#1c1c1c" stroke="#1c1c1c" stroke-width="0.25">U</text>
<text transform="translate(572.1 728.4) scale(0.74 1)" font-size="8.0" text-anchor="middle" fill="#1c1c1c" stroke="#1c1c1c" stroke-width="0.25">C</text>
<text transform="translate(573.6 734.3) scale(0.74 1)" font-size="8.0" text-anchor="middle" fill="#1c1c1c" stroke="#1c1c1c" stroke-width="0.25">U</text>
<text transform="translate(575.6 741.3) scale(0.74 1)" font-size="8.0" text-anchor="middle" fill="#1c1c1c" stroke="#1c1c1c" stroke-width="0.25">C</text>
<text transform="translate(580.1 748.2) scale(0.74 1)" font-size="8.0" text-anchor="middle" fill="#1c1c1c" stroke="#1c1c1c" stroke-width="0.25">U</text>
<text transform="translate(584.5 741.6) scale(0.74 1)" font-size="8.0" text-anchor="middle" fill="#1c1c1c" stroke="#1c1c1c" stroke-width="0.25">U</text>
<text transform="translate(586.2 734.9) scale(0.74 1)" font-size="8.0" text-anchor="middle" fill="#1c1c1c" stroke="#1c1c1c" stroke-width="0.25">U</text>
<text transform="translate(587.8 728.1) scale(0.74 1)" font-size="8.0" text-anchor="middle" fill="#1c1c1c" stroke="#1c1c1c" stroke-width="0.25">C</text>
<text transform="translate(589.0 722.1) scale(0.74 1)" font-size="8.0" text-anchor="middle" fill="#1c1c1c" stroke="#1c1c1c" stroke-width="0.25">A</text>
<text transform="translate(612.3 715.3) scale(0.74 1)" font-size="8.0" text-anchor="middle" fill="#1c1c1c" stroke="#1c1c1c" stroke-width="0.25">U</text>
<text transform="translate(616.3 722.2) scale(0.74 1)" font-size="8.0" text-anchor="middle" fill="#1c1c1c" stroke="#1c1c1c" stroke-width="0.25">U</text>
<text transform="translate(656.4 721.4) scale(0.74 1)" font-size="8.0" text-anchor="middle" fill="#1c1c1c" stroke="#1c1c1c" stroke-width="0.25">U</text>
<text transform="translate(674.6 721.4) scale(0.74 1)" font-size="8.0" text-anchor="middle" fill="#1c1c1c" stroke="#1c1c1c" stroke-width="0.25">3'</text>
<text transform="translate(604.7 695.7) scale(0.74 1)" font-size="8.0" text-anchor="middle" fill="#1c1c1c" stroke="#1c1c1c" stroke-width="0.25">U</text>
<text transform="translate(609.0 695.7) scale(0.74 1)" font-size="8.0" text-anchor="middle" fill="#1c1c1c" stroke="#1c1c1c" stroke-width="0.25">G</text>
<text transform="translate(604.7 722.2) scale(0.74 1)" font-size="8.0" text-anchor="middle" fill="#1c1c1c" stroke="#1c1c1c" stroke-width="0.25">U</text>
<text transform="translate(609.0 722.2) scale(0.74 1)" font-size="8.0" text-anchor="middle" fill="#1c1c1c" stroke="#1c1c1c" stroke-width="0.25">G</text>
<text transform="translate(559.1 702.6) scale(0.74 1)" font-size="8.0" text-anchor="middle" fill="#1c1c1c" stroke="#1c1c1c" stroke-width="0.25">C</text>
<text transform="translate(563.6 702.6) scale(0.74 1)" font-size="8.0" text-anchor="middle" fill="#1c1c1c" stroke="#1c1c1c" stroke-width="0.25">G</text>
<text transform="translate(568.1 702.6) scale(0.74 1)" font-size="8.0" text-anchor="middle" fill="#1c1c1c" stroke="#1c1c1c" stroke-width="0.25">U</text>
<text transform="translate(591.5 702.6) scale(0.74 1)" font-size="8.0" text-anchor="middle" fill="#1c1c1c" stroke="#1c1c1c" stroke-width="0.25">G</text>
<text transform="translate(596.1 702.6) scale(0.74 1)" font-size="8.0" text-anchor="middle" fill="#1c1c1c" stroke="#1c1c1c" stroke-width="0.25">U</text>
<text transform="translate(600.7 702.6) scale(0.74 1)" font-size="8.0" text-anchor="middle" fill="#1c1c1c" stroke="#1c1c1c" stroke-width="0.25">A</text>
<text transform="translate(620.4 702.6) scale(0.74 1)" font-size="8.0" text-anchor="middle" fill="#e8202c" stroke="#e8202c" stroke-width="0.25">A</text>
<text transform="translate(625.0 702.6) scale(0.74 1)" font-size="8.0" text-anchor="middle" fill="#e8202c" stroke="#e8202c" stroke-width="0.25">C</text>
<text transform="translate(629.7 702.6) scale(0.74 1)" font-size="8.0" text-anchor="middle" fill="#e8202c" stroke="#e8202c" stroke-width="0.25">G</text>
<text transform="translate(634.3 702.6) scale(0.74 1)" font-size="8.0" text-anchor="middle" fill="#e8202c" stroke="#e8202c" stroke-width="0.25">A</text>
<text transform="translate(639.0 702.6) scale(0.74 1)" font-size="8.0" text-anchor="middle" fill="#e8202c" stroke="#e8202c" stroke-width="0.25">C</text>
<text transform="translate(643.6 702.6) scale(0.74 1)" font-size="8.0" text-anchor="middle" fill="#e8202c" stroke="#e8202c" stroke-width="0.25">G</text>
<text transform="translate(648.2 702.6) scale(0.74 1)" font-size="8.0" text-anchor="middle" fill="#e8202c" stroke="#e8202c" stroke-width="0.25">A</text>
<text transform="translate(652.9 702.6) scale(0.74 1)" font-size="8.0" text-anchor="middle" fill="#1c1c1c" stroke="#1c1c1c" stroke-width="0.25">U</text>
<text transform="translate(559.1 715.5) scale(0.74 1)" font-size="8.0" text-anchor="middle" fill="#1c1c1c" stroke="#1c1c1c" stroke-width="0.25">G</text>
<text transform="translate(563.6 715.5) scale(0.74 1)" font-size="8.0" text-anchor="middle" fill="#1c1c1c" stroke="#1c1c1c" stroke-width="0.25">U</text>
<text transform="translate(568.1 715.5) scale(0.74 1)" font-size="8.0" text-anchor="middle" fill="#1c1c1c" stroke="#1c1c1c" stroke-width="0.25">A</text>
<text transform="translate(591.5 715.4) scale(0.74 1)" font-size="8.0" text-anchor="middle" fill="#1c1c1c" stroke="#1c1c1c" stroke-width="0.25">C</text>
<text transform="translate(596.1 715.4) scale(0.74 1)" font-size="8.0" text-anchor="middle" fill="#1c1c1c" stroke="#1c1c1c" stroke-width="0.25">A</text>
<text transform="translate(600.7 715.4) scale(0.74 1)" font-size="8.0" text-anchor="middle" fill="#1c1c1c" stroke="#1c1c1c" stroke-width="0.25">U</text>
<text transform="translate(620.4 715.4) scale(0.74 1)" font-size="8.0" text-anchor="middle" fill="#1c1c1c" stroke="#1c1c1c" stroke-width="0.25">U</text>
<text transform="translate(625.0 715.4) scale(0.74 1)" font-size="8.0" text-anchor="middle" fill="#1c1c1c" stroke="#1c1c1c" stroke-width="0.25">G</text>
<text transform="translate(629.7 715.4) scale(0.74 1)" font-size="8.0" text-anchor="middle" fill="#1c1c1c" stroke="#1c1c1c" stroke-width="0.25">C</text>
<text transform="translate(634.3 715.4) scale(0.74 1)" font-size="8.0" text-anchor="middle" fill="#1c1c1c" stroke="#1c1c1c" stroke-width="0.25">U</text>
<text transform="translate(639.0 715.4) scale(0.74 1)" font-size="8.0" text-anchor="middle" fill="#1c1c1c" stroke="#1c1c1c" stroke-width="0.25">G</text>
<text transform="translate(643.6 715.4) scale(0.74 1)" font-size="8.0" text-anchor="middle" fill="#1c1c1c" stroke="#1c1c1c" stroke-width="0.25">C</text>
<text transform="translate(648.2 715.4) scale(0.74 1)" font-size="8.0" text-anchor="middle" fill="#1c1c1c" stroke="#1c1c1c" stroke-width="0.25">U</text>
<text transform="translate(652.9 715.4) scale(0.74 1)" font-size="8.0" text-anchor="middle" fill="#1c1c1c" stroke="#1c1c1c" stroke-width="0.25">A</text>
<circle cx="559.1" cy="706.8" r="1.45" fill="#000"/>
<circle cx="568.1" cy="706.8" r="1.45" fill="#000"/>
<circle cx="591.5" cy="706.8" r="1.45" fill="#000"/>
<circle cx="596.1" cy="706.8" r="1.45" fill="#000"/>
<circle cx="600.7" cy="706.8" r="1.45" fill="#000"/>
<circle cx="612.3" cy="706.8" r="1.45" fill="#000"/>
<circle cx="620.4" cy="706.8" r="1.45" fill="#000"/>
<circle cx="625.0" cy="706.8" r="1.45" fill="#000"/>
<circle cx="629.7" cy="706.8" r="1.45" fill="#000"/>
<circle cx="634.3" cy="706.8" r="1.45" fill="#000"/>
<circle cx="639.0" cy="706.8" r="1.45" fill="#000"/>
<circle cx="643.6" cy="706.8" r="1.45" fill="#000"/>
<circle cx="648.2" cy="706.8" r="1.45" fill="#000"/>
<circle cx="652.9" cy="706.8" r="1.45" fill="#000"/>
<line x1="563.6" y1="704.7" x2="563.6" y2="708.3" stroke="#111" stroke-width="0.95"/>
<line x1="541.5" y1="718.9" x2="550.5" y2="718.9" stroke="#666" stroke-width="0.8" stroke-dasharray="2.2 0.6"/>
<line x1="559.1" y1="715.6" x2="559.1" y2="728.3" stroke="#555" stroke-width="0.8"/>
<line x1="660.9" y1="719.1" x2="670.1" y2="719.1" stroke="#666" stroke-width="0.8" stroke-dasharray="2.2 0.6"/>
<line x1="652.9" y1="715.8" x2="652.9" y2="728.7" stroke="#555" stroke-width="0.8"/>
<text x="552.5" y="735.1" font-size="8.0" fill="#1c1c1c" stroke="#1c1c1c" stroke-width="0.2" textLength="12.5" lengthAdjust="spacingAndGlyphs">3111</text>
<text x="645.8" y="735.3" font-size="8.0" fill="#1c1c1c" stroke="#1c1c1c" stroke-width="0.2" textLength="13.1" lengthAdjust="spacingAndGlyphs">3137</text>
<text x="582.2" y="676.7" font-size="8.0" fill="#1c1c1c" stroke="#1c1c1c" stroke-width="0.2" textLength="47.1" lengthAdjust="spacingAndGlyphs">conmiR–15/107.4</text>
<text x="627.2" y="669.1" font-size="8.0" fill="#1c1c1c" stroke="#1c1c1c" stroke-width="0.2" textLength="53.0" lengthAdjust="spacingAndGlyphs">ΔG= –23.3 kcal/mol</text>
</g>
</svg>
</body></html>
